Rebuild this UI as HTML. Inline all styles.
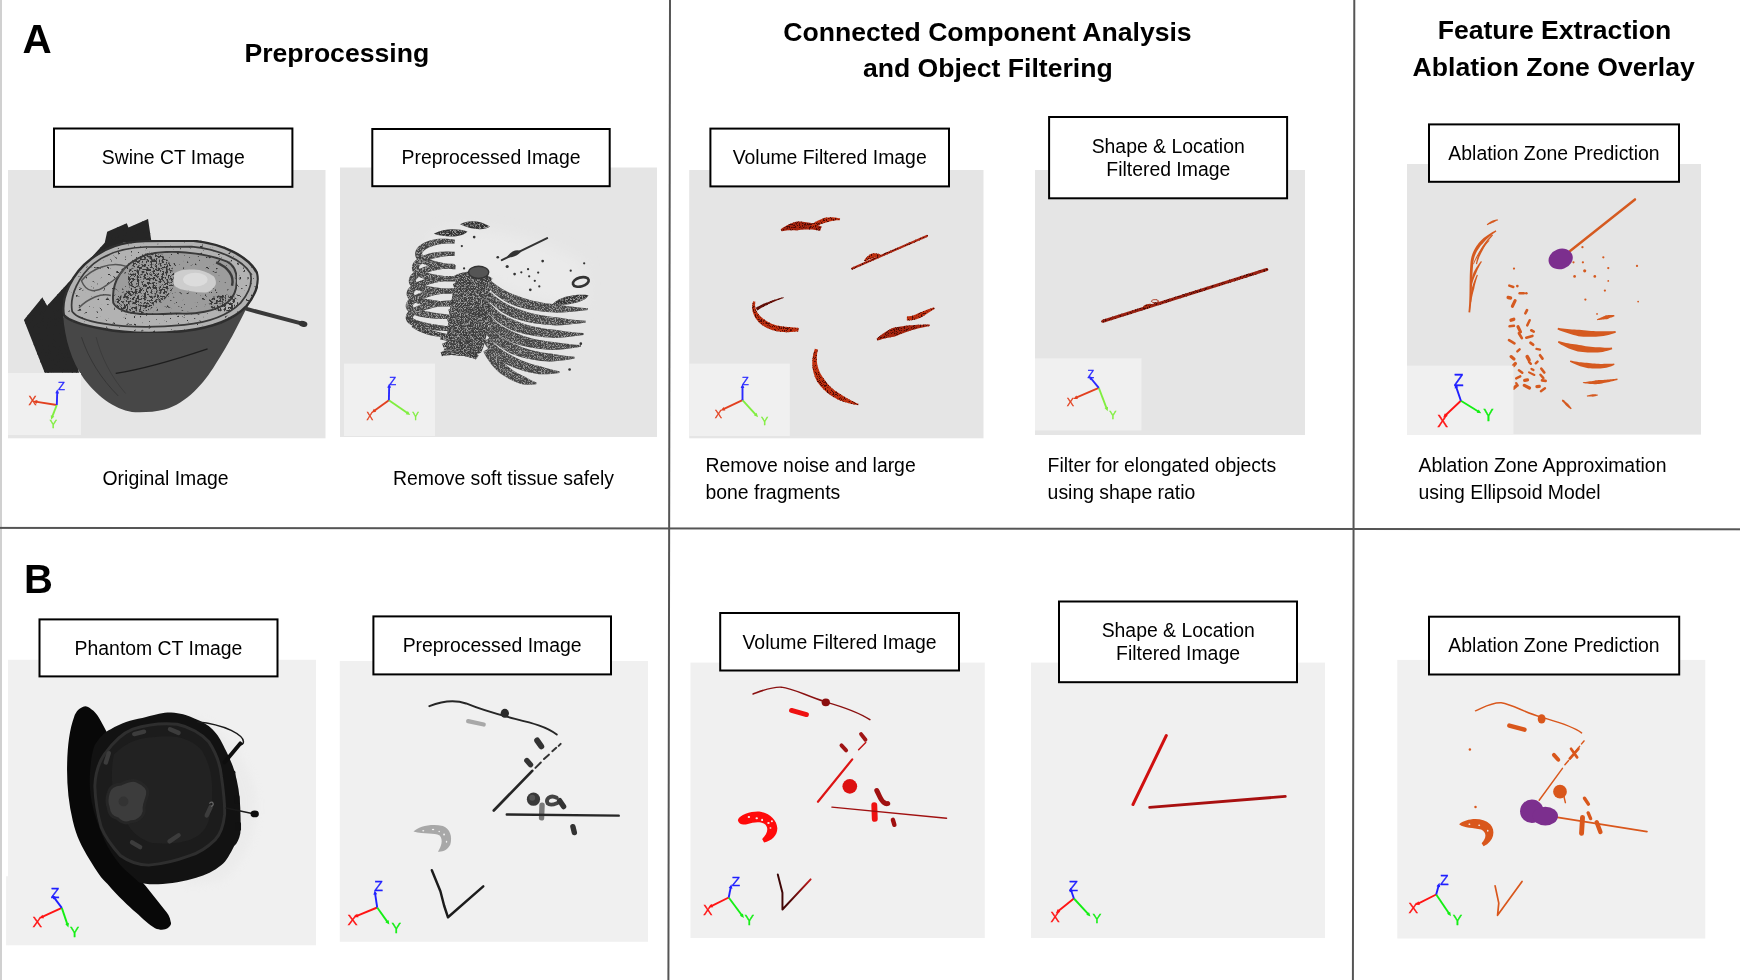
<!DOCTYPE html>
<html><head><meta charset="utf-8"><title>Figure</title>
<style>html,body{margin:0;padding:0;background:#fff;overflow:hidden}svg{display:block}</style></head>
<body><svg width="1740" height="980" viewBox="0 0 1740 980">
<rect width="1740" height="980" fill="#fff"/>
<rect x="8" y="170" width="317.5" height="268.3" fill="#e5e5e5"/>
<rect x="340" y="167.5" width="317.0" height="269.5" fill="#e5e5e5"/>
<rect x="689.2" y="170" width="294.3" height="268.3" fill="#e5e5e5"/>
<rect x="1035" y="170" width="270.0" height="265.0" fill="#e5e5e5"/>
<rect x="1407" y="164" width="294.0" height="270.6" fill="#e5e5e5"/>
<rect x="8" y="659.8" width="308.0" height="285.5" fill="#f0f0f0"/>
<rect x="339.8" y="661" width="308.2" height="280.8" fill="#f0f0f0"/>
<rect x="690.5" y="662.6" width="294.3" height="275.4" fill="#f0f0f0"/>
<rect x="1031" y="662.6" width="294.0" height="275.4" fill="#f0f0f0"/>
<rect x="1397.3" y="659.9" width="308.0" height="278.6" fill="#f0f0f0"/>
<rect x="6.1" y="876.2" width="2.2" height="69.1" fill="#f0f0f0"/>
<defs>
<filter id="spk1" x="0" y="0" width="1" height="1" filterUnits="objectBoundingBox" color-interpolation-filters="sRGB">
<feTurbulence type="fractalNoise" baseFrequency="0.07" numOctaves="3" seed="7" result="n"/>
<feColorMatrix in="n" type="matrix" values="0 0 0 0 0.2  0 0 0 0 0.2  0 0 0 0 0.2  -10 0 0 0 3.2" result="d"/>
<feComposite in="d" in2="SourceGraphic" operator="in" result="dm"/>
<feMerge><feMergeNode in="SourceGraphic"/><feMergeNode in="dm"/></feMerge>
</filter>
<filter id="spk2" x="0" y="0" width="1" height="1" filterUnits="objectBoundingBox" color-interpolation-filters="sRGB">
<feTurbulence type="fractalNoise" baseFrequency="0.35 0.12" numOctaves="2" seed="3" result="n"/>
<feColorMatrix in="n" type="matrix" values="0 0 0 0 0.15  0 0 0 0 0.15  0 0 0 0 0.15  -6 0 0 0 2.5" result="d"/>
<feComposite in="d" in2="SourceGraphic" operator="in" result="dm"/>
<feMerge><feMergeNode in="SourceGraphic"/><feMergeNode in="dm"/></feMerge>
</filter>
<filter id="spk3" x="-0.1" y="-0.1" width="1.2" height="1.2" color-interpolation-filters="sRGB">
<feTurbulence type="fractalNoise" baseFrequency="0.11" numOctaves="3" seed="13" result="n"/>
<feColorMatrix in="n" type="matrix" values="0 0 0 0 0.22  0 0 0 0 0.22  0 0 0 0 0.22  -11 0 0 0 5.6" result="d"/>
<feComposite in="d" in2="SourceGraphic" operator="in"/>
</filter>
</defs>
<g transform="translate(8,200) scale(0.24486)">
<path d="M150,705 L65,490 L140,398 L160,432 L395,175 L405,130 L485,95 L492,112 L572,78 L585,165 L470,175 L360,230 L280,320 L230,400 L225,470 L250,560 L275,640 L290,705 Z" fill="#262626" filter="url(#spk2)"/>
<path d="M225,470 C215,400 260,300 340,240 C400,195 460,170 560,165 L750,163 C880,175 990,230 1022,300 C1035,350 1000,400 975,440 C935,520 900,590 848,670 C800,750 730,830 640,856 C600,866 560,868 520,867 C450,862 370,810 310,730 C260,660 232,570 225,470 Z" fill="#474747"/>
<path d="M300,560 C330,650 380,730 450,800" fill="none" stroke="#2e2e2e" stroke-width="4" opacity="0.7"/><path d="M360,560 C380,640 420,720 480,790" fill="none" stroke="#2e2e2e" stroke-width="3" opacity="0.6"/>
<path d="M440,708 C560,690 690,650 815,608" fill="none" stroke="#1e1e1e" stroke-width="5"/>
<path d="M228,470 C215,400 260,300 340,240 C400,195 460,172 560,168 L750,166 C880,178 985,232 1018,300 C1030,350 1000,400 975,432 C920,490 840,520 720,535 C600,548 480,545 380,525 C310,512 250,495 228,470 Z" fill="#b2b2b2" stroke="#2e2e2e" stroke-width="10" filter="url(#spk1)"/>
<path d="M262,455 C250,390 290,310 350,260 C400,220 470,195 560,192 L750,190 C860,200 960,245 990,300 C1000,340 980,385 950,420 C900,470 820,500 720,510 C600,522 480,520 390,505 C330,495 280,480 262,455 Z" fill="none" stroke="#3a3a3a" stroke-width="7"/>
<path d="M430,420 C420,330 470,260 560,225 C650,200 800,212 895,252 C950,280 945,380 895,420 C850,455 760,468 700,463 C600,468 460,478 430,420 Z" fill="#9c9c9c" stroke="#3a3a3a" stroke-width="8" filter="url(#spk1)"/>
<path d="M300,330 C340,280 420,250 480,270 C470,300 430,330 400,350 C360,380 320,380 300,330 Z" fill="none" stroke="#555" stroke-width="6"/>
<path d="M290,440 C330,400 380,380 420,390" fill="none" stroke="#555" stroke-width="6"/>
<g filter="url(#spk3)"><ellipse cx="585" cy="320" rx="95" ry="105" fill="#000"/><ellipse cx="520" cy="415" rx="80" ry="50" fill="#000"/><ellipse cx="880" cy="420" rx="60" ry="35" fill="#000"/></g>
<path d="M682,298 C700,285 728,282 760,284 C790,285 815,295 841,312 C852,328 850,345 846,349 C835,368 820,378 800,378 C770,376 740,372 705,364 C688,358 676,350 677,340 C676,320 675,308 682,298 Z" fill="#cdcdcd"/>
<ellipse cx="765" cy="325" rx="50" ry="28" fill="#dcdcdc"/>

<path d="M850,255 C900,275 925,310 915,350" fill="none" stroke="#3a3a3a" stroke-width="10"/>
<line x1="975" y1="445" x2="1205" y2="506" stroke="#3a3a3a" stroke-width="16" stroke-linecap="round"/><ellipse cx="1205" cy="506" rx="18" ry="12" fill="#333" transform="rotate(15 1205 506)"/>
</g>

<defs>
<filter id="spkL" x="-0.1" y="-0.1" width="1.2" height="1.2" color-interpolation-filters="sRGB">
<feTurbulence type="fractalNoise" baseFrequency="0.3 0.15" numOctaves="2" seed="11" result="n"/>
<feColorMatrix in="n" type="matrix" values="0 0 0 0 0.62  0 0 0 0 0.62  0 0 0 0 0.62  4 0 0 0 -1.75" result="d"/>
<feComposite in="d" in2="SourceGraphic" operator="in" result="dm"/>
<feMerge><feMergeNode in="SourceGraphic"/><feMergeNode in="dm"/></feMerge>
</filter>
<filter id="blr" x="-0.2" y="-0.2" width="1.4" height="1.4"><feGaussianBlur stdDeviation="30"/></filter>
</defs>
<g transform="translate(390,200) scale(0.22449)" stroke-linecap="round" fill="none">
<path d="M200,160 C300,100 600,130 860,280 L870,470 C700,470 500,420 420,330 L300,330 L140,240 Z" fill="#eaeaea" stroke="none" filter="url(#blr)"/>
<g filter="url(#spkL)">
<path d="M428.9,383.6 L438.9,394.1 L449.7,404.5 L461.0,414.6 L472.9,424.2 L485.5,433.4 L498.7,442.1 L512.7,450.5 L527.3,458.3 L542.7,465.7 L559.1,472.2 L576.4,477.5 L594.5,482.2 L613.3,486.5 L633.0,490.3 L653.5,493.6 L674.9,496.4 L697.2,498.7 L720.4,500.5 L744.7,501.9 L770.1,500.8 L796.5,498.9 L823.9,496.4 L852.4,493.4 L882.1,490.0 L881.9,482.0 L852.3,479.6 L824.1,476.7 L797.1,473.4 L771.5,469.5 L747.1,465.8 L723.8,463.4 L701.5,460.6 L680.4,457.4 L660.3,453.8 L641.2,449.7 L623.1,445.2 L606.0,440.3 L589.8,435.0 L574.4,429.3 L559.7,423.9 L545.4,418.6 L531.8,412.8 L518.8,406.7 L506.4,400.1 L494.5,393.1 L483.1,385.7 L472.1,377.8 L461.5,369.5 L451.1,360.4 Z" fill="#444"/>
<path d="M426.1,432.7 L435.1,443.9 L445.2,455.0 L456.0,465.7 L467.6,476.0 L479.9,485.8 L492.9,495.1 L506.8,504.0 L521.4,512.3 L536.9,520.2 L553.3,527.0 L570.8,532.7 L589.0,537.8 L607.9,542.3 L627.6,546.3 L648.2,549.8 L669.5,552.8 L691.7,555.2 L714.7,557.1 L738.7,558.5 L763.6,557.4 L789.4,555.4 L816.1,552.8 L843.6,549.7 L872.1,546.0 L871.9,538.0 L843.4,535.8 L816.1,533.1 L790.0,529.9 L765.0,526.1 L741.1,522.4 L718.1,520.0 L696.2,517.2 L675.2,513.9 L655.3,510.1 L636.3,505.8 L618.2,501.1 L601.0,496.0 L584.8,490.4 L569.5,484.4 L554.7,478.7 L540.5,473.0 L527.0,466.9 L514.2,460.3 L502.0,453.4 L490.5,445.9 L479.6,438.0 L469.3,429.7 L459.5,420.9 L449.9,411.3 Z" fill="#444"/>
<path d="M422.3,481.8 L430.6,493.7 L440.1,505.5 L450.5,516.9 L461.7,527.8 L473.8,538.1 L486.8,548.0 L500.7,557.3 L515.4,566.1 L530.9,574.3 L547.5,581.5 L565.1,587.5 L583.4,592.8 L602.4,597.6 L622.3,601.8 L642.8,605.4 L664.1,608.5 L686.2,611.0 L709.0,612.9 L732.7,614.2 L757.2,613.1 L782.4,610.9 L808.2,608.2 L834.9,604.9 L862.1,601.0 L861.9,593.0 L834.5,591.0 L808.2,588.5 L782.8,585.4 L758.4,581.8 L735.1,578.1 L712.5,575.8 L690.8,573.0 L670.0,569.6 L650.1,565.7 L631.2,561.4 L613.1,556.5 L595.9,551.2 L579.6,545.4 L564.2,539.1 L549.4,533.2 L535.2,527.2 L521.7,520.7 L509.0,513.8 L497.1,506.5 L485.8,498.6 L475.3,490.3 L465.5,481.6 L456.4,472.4 L447.7,462.2 Z" fill="#444"/>
<path d="M419.3,531.7 L427.9,544.2 L437.7,556.5 L448.3,568.4 L459.7,579.7 L472.0,590.5 L485.1,600.7 L499.0,610.3 L513.8,619.4 L529.3,627.9 L545.7,635.3 L563.2,641.4 L581.3,646.9 L600.1,651.8 L619.5,656.0 L639.6,659.7 L660.4,662.7 L681.8,665.1 L704.0,667.0 L726.7,668.2 L750.3,666.9 L774.4,664.6 L799.1,661.6 L824.4,658.1 L850.2,654.0 L849.8,646.0 L823.9,644.3 L798.8,642.0 L774.7,639.1 L751.4,635.6 L729.0,632.1 L707.4,629.9 L686.5,627.1 L666.4,623.8 L647.1,620.0 L628.7,615.6 L611.0,610.7 L594.2,605.4 L578.2,599.5 L563.0,593.1 L548.3,586.9 L534.1,580.7 L520.6,574.0 L507.8,566.8 L495.7,559.1 L484.2,550.9 L473.5,542.1 L463.3,532.9 L453.8,523.0 L444.7,512.3 Z" fill="#444"/>
<path d="M417.4,581.9 L426.3,594.3 L436.2,606.7 L446.9,618.5 L458.4,629.9 L470.7,640.7 L483.7,650.9 L497.4,660.6 L511.9,669.8 L527.0,678.3 L542.9,685.9 L559.8,692.1 L577.1,697.8 L595.0,702.8 L613.4,707.2 L632.3,710.9 L651.7,714.1 L671.5,716.7 L691.9,718.6 L712.6,720.0 L733.9,718.8 L755.6,716.5 L777.5,713.6 L799.7,710.1 L822.2,706.0 L821.8,698.0 L799.2,696.3 L777.3,693.9 L756.0,691.0 L735.3,687.5 L715.3,683.9 L695.8,681.6 L676.8,678.8 L658.4,675.4 L640.6,671.4 L623.4,667.0 L606.8,662.0 L590.9,656.5 L575.6,650.5 L560.9,644.0 L546.6,637.7 L532.7,631.4 L519.4,624.6 L506.7,617.2 L494.5,609.4 L483.0,601.0 L472.0,592.2 L461.7,582.8 L452.0,572.9 L442.6,562.1 Z" fill="#444"/>
<path d="M416.5,630.6 L422.9,641.9 L430.4,653.4 L438.8,664.6 L448.0,675.4 L458.0,685.9 L468.7,695.9 L480.1,705.6 L492.2,714.9 L505.0,723.8 L518.6,731.8 L533.1,738.7 L548.0,745.1 L563.5,751.1 L579.3,756.5 L595.5,761.4 L612.1,765.9 L629.0,769.8 L646.2,773.2 L663.7,776.1 L681.8,776.6 L700.0,776.1 L718.3,774.9 L736.6,773.3 L754.9,771.0 L755.1,763.0 L737.3,759.4 L719.9,755.3 L702.9,750.7 L686.3,745.6 L670.1,740.5 L654.0,736.8 L638.2,732.7 L622.8,728.0 L607.8,723.0 L593.3,717.5 L579.2,711.6 L565.7,705.4 L552.7,698.7 L540.3,691.8 L528.2,685.1 L516.3,678.5 L505.0,671.5 L494.3,664.2 L484.2,656.6 L474.8,648.7 L466.0,640.4 L457.9,631.9 L450.5,623.0 L443.5,613.4 Z" fill="#444"/>
<path d="M416.1,674.9 L420.9,684.9 L426.4,695.1 L432.5,705.2 L439.1,715.1 L446.1,724.9 L453.7,734.5 L461.6,743.8 L470.0,753.0 L478.8,761.9 L488.3,770.1 L498.6,777.4 L509.2,784.3 L520.0,790.8 L531.1,797.0 L542.3,802.7 L553.8,808.0 L565.5,812.8 L577.3,817.2 L589.3,821.1 L601.9,822.6 L614.6,823.1 L627.1,823.0 L639.4,822.3 L651.5,821.0 L652.5,813.0 L641.6,808.6 L631.1,803.7 L620.8,798.4 L610.9,792.6 L601.1,786.9 L591.0,782.6 L580.9,777.8 L571.1,772.7 L561.4,767.1 L552.0,761.2 L542.8,755.0 L533.8,748.5 L525.2,741.6 L516.8,734.5 L508.3,727.7 L499.8,721.0 L491.5,714.1 L483.6,706.9 L476.0,699.4 L468.8,691.8 L462.0,683.9 L455.6,675.9 L449.6,667.8 L443.9,659.1 Z" fill="#444"/>
<path d="M289.1,177.1 L276.8,175.1 L264.5,173.6 L252.4,172.7 L240.6,172.4 L229.1,172.5 L217.9,173.1 L207.1,174.2 L196.7,175.7 L186.6,177.7 L177.1,180.1 L168.1,183.2 L159.6,186.6 L151.7,190.3 L144.3,194.4 L137.5,198.8 L131.3,203.6 L125.8,208.8 L121.0,214.4 L117.0,220.5 L114.0,227.3 L112.2,234.6 L111.8,242.2 L113.0,250.0 L115.8,257.3 L119.8,263.3 L124.1,268.3 L128.9,272.7 L134.1,276.7 L139.7,280.3 L145.6,283.6 L151.9,286.5 L158.4,289.2 L165.2,291.7 L172.3,293.9 L179.6,296.0 L187.2,297.9 L195.0,299.6 L203.0,301.3 L211.3,302.5 L219.7,303.6 L228.3,304.5 L237.0,305.3 L245.9,306.1 L254.8,306.7 L263.8,307.3 L272.8,307.9 L281.9,308.4 L291.0,308.9 L293.0,291.1 L284.1,289.5 L275.2,288.0 L266.4,286.4 L257.7,284.8 L249.1,283.1 L240.6,281.3 L232.4,279.5 L224.3,277.6 L216.4,275.7 L208.8,273.8 L201.4,272.0 L194.3,270.1 L187.6,268.1 L181.2,266.1 L175.2,263.9 L169.6,261.6 L164.5,259.3 L159.9,256.8 L155.9,254.3 L152.4,251.8 L149.4,249.3 L147.1,246.8 L145.3,244.4 L144.2,242.7 L143.5,241.2 L143.1,240.0 L143.0,238.7 L143.3,237.0 L144.1,234.8 L145.6,232.1 L147.9,229.1 L151.0,225.9 L155.0,222.6 L159.7,219.2 L165.2,215.9 L171.4,212.7 L178.3,209.7 L185.8,206.9 L193.8,204.1 L202.3,201.5 L211.4,199.1 L220.9,197.2 L231.0,195.7 L241.4,194.5 L252.2,193.9 L263.4,193.7 L274.9,194.0 L286.9,194.9 Z" fill="#424242"/>
<path d="M288.3,231.0 L274.8,230.1 L261.4,229.6 L248.4,229.6 L235.7,230.0 L223.3,230.8 L211.4,231.9 L199.9,233.5 L188.8,235.3 L178.2,237.5 L168.1,240.2 L158.6,243.4 L149.7,246.9 L141.3,250.6 L133.6,254.6 L126.4,258.9 L119.9,263.6 L114.0,268.6 L108.8,274.0 L104.4,279.9 L100.9,286.3 L98.5,293.4 L97.5,301.0 L98.1,308.8 L100.3,316.4 L104.1,322.7 L108.4,328.0 L113.3,332.7 L118.8,336.7 L124.6,340.3 L130.9,343.5 L137.5,346.3 L144.5,348.8 L151.9,351.0 L159.6,353.1 L167.7,354.9 L176.1,356.6 L184.8,358.0 L193.8,359.4 L203.1,360.3 L212.6,361.0 L222.4,361.6 L232.4,362.0 L242.6,362.4 L253.0,362.6 L263.5,362.8 L274.1,362.9 L284.8,363.0 L295.6,363.0 L296.4,345.0 L285.8,344.0 L275.2,342.9 L264.8,341.7 L254.6,340.5 L244.5,339.2 L234.7,337.9 L225.1,336.4 L215.7,334.9 L206.7,333.2 L198.0,331.6 L189.7,330.1 L181.7,328.4 L174.1,326.7 L167.1,324.8 L160.5,322.8 L154.4,320.7 L149.0,318.5 L144.1,316.2 L140.0,313.8 L136.5,311.5 L133.8,309.2 L131.7,307.0 L130.4,305.0 L129.7,303.6 L129.2,302.4 L128.9,301.3 L128.9,300.0 L129.4,298.3 L130.4,296.0 L132.2,293.2 L134.9,290.1 L138.5,286.8 L142.9,283.4 L148.2,279.9 L154.3,276.5 L161.1,273.1 L168.6,270.0 L176.8,266.9 L185.5,263.9 L194.9,261.0 L204.8,258.3 L215.2,255.9 L226.2,253.8 L237.6,252.1 L249.5,250.7 L261.8,249.7 L274.5,249.1 L287.7,249.0 Z" fill="#424242"/>
<path d="M288.0,285.0 L273.4,284.4 L259.0,284.3 L245.0,284.5 L231.5,285.1 L218.4,286.1 L205.8,287.4 L193.7,289.0 L182.1,290.9 L171.0,293.1 L160.5,295.8 L150.6,299.0 L141.3,302.4 L132.6,306.0 L124.5,309.9 L117.1,314.1 L110.2,318.6 L104.0,323.3 L98.4,328.4 L93.5,333.9 L89.5,339.9 L86.3,346.5 L84.3,353.6 L83.6,361.0 L84.5,369.1 L87.7,376.5 L91.8,382.5 L96.7,387.6 L102.3,392.0 L108.3,395.7 L114.9,398.9 L121.8,401.8 L129.3,404.3 L137.1,406.5 L145.4,408.5 L154.2,410.3 L163.3,411.9 L172.8,413.3 L182.7,414.5 L192.9,415.4 L203.5,416.0 L214.3,416.4 L225.4,416.7 L236.7,417.0 L248.2,417.1 L259.9,417.2 L271.8,417.2 L283.7,417.1 L295.7,417.0 L296.3,399.0 L284.4,398.1 L272.6,397.1 L260.9,396.1 L249.4,395.0 L238.2,393.8 L227.2,392.6 L216.4,391.2 L206.0,389.7 L196.0,388.2 L186.3,386.6 L177.0,385.2 L168.2,383.6 L159.9,381.9 L152.2,380.1 L145.1,378.1 L138.6,376.0 L132.8,373.8 L127.8,371.5 L123.6,369.2 L120.4,366.9 L118.0,364.8 L116.5,363.0 L115.7,361.5 L115.5,360.9 L115.3,360.2 L115.3,358.9 L115.6,357.1 L116.4,355.0 L118.0,352.3 L120.4,349.3 L123.6,346.0 L127.7,342.6 L132.7,339.1 L138.4,335.7 L144.9,332.2 L152.2,328.9 L160.2,325.7 L168.8,322.6 L178.1,319.6 L188.0,316.6 L198.5,313.8 L209.6,311.3 L221.4,309.1 L233.6,307.2 L246.4,305.6 L259.8,304.3 L273.6,303.5 L288.0,303.0 Z" fill="#424242"/>
<path d="M287.7,339.0 L273.0,338.9 L258.6,339.1 L244.5,339.7 L230.8,340.6 L217.5,341.8 L204.7,343.2 L192.3,344.9 L180.4,346.9 L169.0,349.2 L158.1,351.8 L147.9,354.9 L138.2,358.2 L129.0,361.8 L120.5,365.5 L112.6,369.5 L105.3,373.7 L98.6,378.2 L92.5,383.0 L87.1,388.2 L82.4,393.8 L78.6,400.0 L75.7,406.8 L74.2,414.2 L74.1,422.2 L76.4,429.9 L80.1,436.4 L84.8,441.9 L90.2,446.5 L96.2,450.4 L102.6,453.7 L109.6,456.7 L117.1,459.3 L125.1,461.7 L133.6,463.9 L142.5,465.8 L152.0,467.6 L161.8,469.2 L172.1,470.6 L182.9,471.7 L194.0,472.5 L205.4,473.2 L217.1,473.7 L229.0,474.1 L241.2,474.5 L253.6,474.7 L266.2,474.9 L278.9,475.0 L291.6,475.0 L292.4,457.0 L279.7,456.0 L267.2,454.8 L254.9,453.6 L242.7,452.4 L230.8,451.0 L219.1,449.5 L207.8,448.0 L196.9,446.3 L186.3,444.5 L176.2,442.8 L166.5,441.2 L157.3,439.4 L148.7,437.5 L140.7,435.5 L133.4,433.4 L126.8,431.2 L121.0,428.9 L116.0,426.5 L112.0,424.2 L109.0,422.0 L107.1,420.1 L106.1,418.7 L105.8,417.9 L105.9,417.8 L105.7,417.1 L105.9,415.7 L106.5,413.9 L107.7,411.5 L109.8,408.7 L112.8,405.5 L116.7,402.2 L121.4,398.7 L127.0,395.2 L133.3,391.8 L140.5,388.3 L148.3,385.0 L156.9,381.8 L166.1,378.8 L175.9,375.7 L186.3,372.6 L197.2,369.8 L208.7,367.1 L220.8,364.7 L233.3,362.6 L246.4,360.8 L259.9,359.2 L273.8,357.9 L288.3,357.0 Z" fill="#424242"/>
<path d="M287.6,393.0 L272.9,393.1 L258.4,393.6 L244.2,394.3 L230.4,395.4 L217.0,396.7 L204.0,398.2 L191.5,400.0 L179.4,402.0 L167.8,404.3 L156.7,407.0 L146.2,410.0 L136.3,413.3 L127.0,416.8 L118.3,420.4 L110.1,424.3 L102.6,428.4 L95.8,432.7 L89.5,437.4 L83.9,442.4 L79.0,447.9 L75.0,453.9 L71.9,460.7 L70.2,468.1 L70.1,476.0 L72.2,483.6 L75.9,490.3 L80.7,496.0 L86.1,500.6 L92.2,504.6 L98.8,508.0 L106.0,511.1 L113.6,513.8 L121.8,516.3 L130.6,518.6 L139.8,520.7 L149.5,522.6 L159.6,524.3 L170.2,525.9 L181.2,527.1 L192.6,528.0 L204.3,528.7 L216.2,529.4 L228.4,529.9 L240.8,530.3 L253.4,530.6 L266.1,530.9 L278.8,531.0 L291.6,531.0 L292.4,513.0 L279.7,511.9 L267.1,510.8 L254.7,509.6 L242.4,508.2 L230.3,506.8 L218.5,505.2 L206.9,503.6 L195.7,501.8 L184.9,499.9 L174.5,498.1 L164.5,496.3 L155.0,494.4 L146.1,492.4 L137.8,490.3 L130.3,488.1 L123.4,485.7 L117.4,483.3 L112.2,480.8 L108.1,478.4 L105.0,476.2 L103.0,474.2 L102.0,472.8 L101.8,472.2 L101.9,472.0 L101.8,471.4 L101.8,470.3 L102.4,468.7 L103.7,466.4 L105.9,463.7 L109.1,460.6 L113.1,457.3 L118.1,453.8 L123.9,450.4 L130.6,446.9 L138.0,443.5 L146.2,440.2 L155.0,437.0 L164.5,434.0 L174.6,430.8 L185.2,427.7 L196.4,424.8 L208.2,422.1 L220.4,419.6 L233.1,417.4 L246.3,415.4 L259.9,413.6 L273.9,412.2 L288.4,411.0 Z" fill="#424242"/>
<path d="M287.5,447.0 L272.8,447.4 L258.3,448.0 L244.2,448.8 L230.4,449.9 L217.0,451.2 L204.1,452.7 L191.6,454.5 L179.5,456.4 L167.9,458.5 L156.9,461.0 L146.5,463.9 L136.6,466.9 L127.3,470.2 L118.6,473.7 L110.4,477.3 L102.9,481.2 L96.0,485.3 L89.8,489.8 L84.1,494.6 L79.2,500.0 L75.0,506.0 L71.9,512.7 L70.2,520.1 L70.1,528.0 L72.3,535.7 L76.1,542.2 L80.9,547.6 L86.4,552.1 L92.5,555.9 L99.1,559.3 L106.2,562.3 L113.9,565.0 L122.2,567.6 L131.1,569.9 L140.5,572.0 L150.4,574.0 L160.8,575.9 L171.7,577.6 L183.0,579.0 L194.8,580.1 L207.0,581.1 L219.4,581.9 L232.2,582.7 L245.3,583.3 L258.6,583.9 L272.1,584.3 L285.7,584.7 L299.5,585.0 L300.5,567.0 L286.9,565.7 L273.4,564.3 L260.2,562.8 L247.2,561.3 L234.4,559.6 L222.0,557.8 L209.9,556.0 L198.2,554.0 L187.0,551.9 L176.2,549.9 L165.9,548.0 L156.1,546.0 L147.0,543.8 L138.5,541.6 L130.7,539.3 L123.7,536.9 L117.5,534.4 L112.3,532.0 L108.0,529.6 L104.8,527.3 L102.8,525.4 L101.8,524.1 L101.7,523.6 L101.9,524.0 L101.7,523.4 L101.8,522.5 L102.3,521.0 L103.6,518.9 L105.7,516.3 L108.8,513.4 L112.9,510.2 L117.8,507.0 L123.6,503.7 L130.3,500.4 L137.7,497.2 L145.9,494.1 L154.8,491.0 L164.3,488.1 L174.4,485.1 L185.1,482.1 L196.3,479.3 L208.1,476.6 L220.4,474.2 L233.2,471.9 L246.4,469.8 L260.0,468.0 L274.1,466.4 L288.5,465.0 Z" fill="#424242"/>
<path d="M292.9,353.5 L299.3,352.2 L305.7,351.1 L312.1,350.2 L318.7,349.6 L325.4,349.1 L332.1,348.9 L338.9,348.9 L345.7,349.2 L352.4,349.7 L359.1,350.4 L365.8,351.3 L372.3,352.4 L378.9,352.5 L385.5,352.8 L391.9,353.3 L398.3,354.0 L404.6,355.0 L410.7,356.3 L416.6,357.7 L422.4,359.4 L428.0,361.4 L433.4,363.6 L438.5,366.1 L443.7,369.0 L456.3,351.0 L451.2,346.7 L445.4,342.5 L439.4,338.6 L433.1,335.0 L426.5,331.7 L419.6,328.7 L412.6,326.0 L405.4,323.5 L398.0,321.4 L390.5,319.5 L382.9,317.9 L375.2,316.6 L367.3,316.8 L359.5,317.4 L351.7,318.2 L344.0,319.2 L336.3,320.6 L328.8,322.1 L321.4,323.9 L314.1,326.0 L307.0,328.3 L300.1,330.8 L293.4,333.6 L287.1,336.5 Z" fill="#363636"/>
<path d="M286.0,391.5 L292.4,390.2 L298.8,389.1 L305.3,388.2 L311.9,387.6 L318.6,387.1 L325.3,386.9 L332.1,386.9 L338.8,387.2 L345.6,387.7 L352.3,388.4 L359.0,389.3 L365.5,390.4 L372.1,390.5 L378.6,390.8 L385.1,391.3 L391.5,392.0 L397.7,393.0 L403.8,394.3 L409.8,395.7 L415.6,397.4 L421.1,399.4 L426.5,401.6 L431.7,404.1 L436.8,407.0 L449.5,389.0 L444.4,384.7 L438.6,380.5 L432.6,376.6 L426.2,373.0 L419.6,369.7 L412.8,366.7 L405.8,364.0 L398.6,361.5 L391.2,359.4 L383.7,357.5 L376.0,355.9 L368.3,354.6 L360.4,354.8 L352.6,355.4 L344.8,356.2 L337.1,357.2 L329.5,358.6 L322.0,360.1 L314.5,361.9 L307.3,364.0 L300.2,366.3 L293.3,368.8 L286.6,371.6 L280.3,374.5 Z" fill="#363636"/>
<path d="M279.2,429.5 L285.6,428.2 L292.0,427.1 L298.5,426.2 L305.1,425.6 L311.7,425.1 L318.5,424.9 L325.2,424.9 L332.0,425.2 L338.8,425.7 L345.5,426.4 L352.1,427.3 L358.7,428.4 L365.2,428.5 L371.8,428.8 L378.2,429.3 L384.6,430.0 L390.9,431.0 L397.0,432.3 L402.9,433.7 L408.7,435.4 L414.3,437.4 L419.7,439.6 L424.8,442.1 L430.0,445.0 L442.6,427.0 L437.5,422.7 L431.8,418.5 L425.7,414.6 L419.4,411.0 L412.8,407.7 L406.0,404.7 L398.9,402.0 L391.7,399.5 L384.4,397.4 L376.8,395.5 L369.2,393.9 L361.5,392.6 L353.6,392.8 L345.8,393.4 L338.0,394.2 L330.3,395.2 L322.6,396.6 L315.1,398.1 L307.7,399.9 L300.4,402.0 L293.4,404.3 L286.4,406.8 L279.7,409.6 L273.4,412.5 Z" fill="#363636"/>
<path d="M272.4,467.5 L278.8,466.2 L285.1,465.1 L291.6,464.2 L298.2,463.6 L304.9,463.1 L311.6,462.9 L318.4,462.9 L325.2,463.2 L331.9,463.7 L338.6,464.4 L345.3,465.3 L351.8,466.4 L358.4,466.5 L364.9,466.8 L371.4,467.3 L377.8,468.0 L384.0,469.0 L390.1,470.3 L396.1,471.7 L401.9,473.4 L407.5,475.4 L412.8,477.6 L418.0,480.1 L423.2,483.0 L435.8,465.0 L430.7,460.7 L424.9,456.5 L418.9,452.6 L412.5,449.0 L405.9,445.7 L399.1,442.7 L392.1,440.0 L384.9,437.5 L377.5,435.4 L370.0,433.5 L362.4,431.9 L354.6,430.6 L346.8,430.8 L338.9,431.4 L331.1,432.2 L323.4,433.2 L315.8,434.6 L308.3,436.1 L300.9,437.9 L293.6,440.0 L286.5,442.3 L279.6,444.8 L272.9,447.6 L266.6,450.5 Z" fill="#363636"/>
<path d="M265.5,505.5 L271.9,504.2 L278.3,503.1 L284.8,502.2 L291.4,501.6 L298.1,501.1 L304.8,500.9 L311.5,500.9 L318.3,501.2 L325.1,501.7 L331.8,502.4 L338.4,503.3 L345.0,504.4 L351.6,504.5 L358.1,504.8 L364.6,505.3 L370.9,506.0 L377.2,507.0 L383.3,508.3 L389.3,509.7 L395.0,511.4 L400.6,513.4 L406.0,515.6 L411.1,518.1 L416.3,521.0 L429.0,503.0 L423.8,498.7 L418.1,494.5 L412.0,490.6 L405.7,487.0 L399.1,483.7 L392.3,480.7 L385.3,478.0 L378.0,475.5 L370.7,473.4 L363.2,471.5 L355.5,469.9 L347.8,468.6 L339.9,468.8 L332.1,469.4 L324.3,470.2 L316.6,471.2 L309.0,472.6 L301.4,474.1 L294.0,475.9 L286.8,478.0 L279.7,480.3 L272.8,482.8 L266.1,485.6 L259.8,488.5 Z" fill="#363636"/>
<path d="M258.7,543.5 L265.1,542.2 L271.5,541.1 L277.9,540.2 L284.5,539.6 L291.2,539.1 L297.9,538.9 L304.7,538.9 L311.5,539.2 L318.2,539.7 L324.9,540.4 L331.6,541.3 L338.1,542.4 L344.7,542.5 L351.3,542.8 L357.7,543.3 L364.1,544.0 L370.4,545.0 L376.5,546.3 L382.4,547.7 L388.2,549.4 L393.8,551.4 L399.2,553.6 L404.3,556.1 L409.5,559.0 L422.1,541.0 L417.0,536.7 L411.2,532.5 L405.2,528.6 L398.9,525.0 L392.3,521.7 L385.4,518.7 L378.4,516.0 L371.2,513.5 L363.8,511.4 L356.3,509.5 L348.7,507.9 L341.0,506.6 L333.1,506.8 L325.3,507.4 L317.5,508.2 L309.8,509.2 L302.1,510.6 L294.6,512.1 L287.2,513.9 L279.9,516.0 L272.8,518.3 L265.9,520.8 L259.2,523.6 L252.9,526.5 Z" fill="#363636"/>
<path d="M251.8,581.5 L258.2,580.2 L264.6,579.1 L271.1,578.2 L277.7,577.6 L284.4,577.1 L291.1,576.9 L297.9,576.9 L304.6,577.2 L311.4,577.7 L318.1,578.4 L324.8,579.3 L331.3,580.4 L337.9,580.5 L344.4,580.8 L350.9,581.3 L357.3,582.0 L363.5,583.0 L369.6,584.3 L375.6,585.7 L381.4,587.4 L386.9,589.4 L392.3,591.6 L397.5,594.1 L402.6,597.0 L415.3,579.0 L410.2,574.7 L404.4,570.5 L398.4,566.6 L392.0,563.0 L385.4,559.7 L378.6,556.7 L371.6,554.0 L364.4,551.5 L357.0,549.4 L349.5,547.5 L341.8,545.9 L334.1,544.6 L326.2,544.8 L318.4,545.4 L310.6,546.2 L302.9,547.2 L295.3,548.6 L287.8,550.1 L280.3,551.9 L273.1,554.0 L266.0,556.3 L259.1,558.8 L252.4,561.6 L246.1,564.5 Z" fill="#363636"/>
<path d="M245.0,619.5 L251.4,618.2 L257.8,617.1 L264.3,616.2 L270.9,615.6 L277.5,615.1 L284.3,614.9 L291.0,614.9 L297.8,615.2 L304.6,615.7 L311.3,616.4 L317.9,617.3 L324.5,618.4 L331.0,618.5 L337.6,618.8 L344.0,619.3 L350.4,620.0 L356.7,621.0 L362.8,622.3 L368.7,623.7 L374.5,625.4 L380.1,627.4 L385.5,629.6 L390.6,632.1 L395.8,635.0 L408.4,617.0 L403.3,612.7 L397.6,608.5 L391.5,604.6 L385.2,601.0 L378.6,597.7 L371.8,594.7 L364.7,592.0 L357.5,589.5 L350.2,587.4 L342.6,585.5 L335.0,583.9 L327.3,582.6 L319.4,582.8 L311.6,583.4 L303.8,584.2 L296.1,585.2 L288.4,586.6 L280.9,588.1 L273.5,589.9 L266.2,592.0 L259.2,594.3 L252.2,596.8 L245.5,599.6 L239.2,602.5 Z" fill="#363636"/>
<path d="M238.2,657.5 L244.6,656.2 L250.9,655.1 L257.4,654.2 L264.0,653.6 L270.7,653.1 L277.4,652.9 L284.2,652.9 L291.0,653.2 L297.7,653.7 L304.4,654.4 L311.1,655.3 L317.6,656.4 L324.2,656.5 L330.7,656.8 L337.2,657.3 L343.6,658.0 L349.8,659.0 L355.9,660.3 L361.9,661.7 L367.7,663.4 L373.3,665.4 L378.6,667.6 L383.8,670.1 L389.0,673.0 L401.6,655.0 L396.5,650.7 L390.7,646.5 L384.7,642.6 L378.3,639.0 L371.7,635.7 L364.9,632.7 L357.9,630.0 L350.7,627.5 L343.3,625.4 L335.8,623.5 L328.2,621.9 L320.4,620.6 L312.6,620.8 L304.7,621.4 L296.9,622.2 L289.2,623.2 L281.6,624.6 L274.1,626.1 L266.7,627.9 L259.4,630.0 L252.3,632.3 L245.4,634.8 L238.7,637.6 L232.4,640.5 Z" fill="#363636"/>
<path d="M231.3,695.5 L237.7,694.2 L244.1,693.1 L250.6,692.2 L257.2,691.6 L263.9,691.1 L270.6,690.9 L277.3,690.9 L284.1,691.2 L290.9,691.7 L297.6,692.4 L304.2,693.3 L310.8,694.4 L317.4,694.5 L323.9,694.8 L330.4,695.3 L336.7,696.0 L343.0,697.0 L349.1,698.3 L355.1,699.7 L360.8,701.4 L366.4,703.4 L371.8,705.6 L376.9,708.1 L382.1,711.0 L394.8,693.0 L389.6,688.7 L383.9,684.5 L377.8,680.6 L371.5,677.0 L364.9,673.7 L358.1,670.7 L351.1,668.0 L343.8,665.5 L336.5,663.4 L329.0,661.5 L321.3,659.9 L313.6,658.6 L305.7,658.8 L297.9,659.4 L290.1,660.2 L282.4,661.2 L274.8,662.6 L267.2,664.1 L259.8,665.9 L252.6,668.0 L245.5,670.3 L238.6,672.8 L231.9,675.6 L225.6,678.5 Z" fill="#363636"/>
<path d="M300,340 C360,310 430,320 440,350 C455,430 440,620 405,680 C360,700 290,690 250,670 C255,560 270,430 300,340 Z" fill="#3c3c3c"/>
<path d="M96.4,566.0 L101.4,569.5 L106.8,572.9 L112.3,576.2 L118.2,579.5 L124.3,582.6 L130.6,585.6 L137.3,588.5 L144.2,591.3 L151.3,594.0 L158.8,596.7 L166.5,599.3 L174.6,601.8 L183.1,603.4 L192.0,605.0 L201.1,606.5 L210.6,608.0 L220.4,609.4 L230.5,610.8 L241.0,612.2 L251.9,613.6 L263.1,614.9 L274.7,616.3 L286.6,617.6 L299.0,618.9 L301.0,605.1 L288.8,602.9 L277.0,600.8 L265.6,598.6 L254.6,596.5 L244.0,594.3 L233.8,592.1 L224.0,589.9 L214.6,587.7 L205.5,585.5 L196.8,583.2 L188.4,580.9 L180.4,578.5 L172.5,576.9 L164.9,575.2 L157.7,573.5 L150.7,571.7 L143.9,569.8 L137.5,567.8 L131.3,565.8 L125.3,563.7 L119.6,561.4 L114.1,559.1 L108.8,556.6 L103.6,554.0 Z" fill="#3a3a3a"/>
<path d="M224.5,622.0 L230.0,622.8 L235.5,623.8 L241.0,624.8 L246.6,626.0 L252.2,627.3 L257.7,628.7 L263.3,630.3 L268.8,631.9 L274.4,633.7 L279.9,635.6 L285.4,637.6 L290.9,639.8 L296.6,641.3 L302.3,642.9 L308.0,644.7 L313.7,646.6 L319.4,648.7 L325.0,650.9 L330.6,653.3 L336.2,655.9 L341.7,658.6 L347.2,661.4 L352.6,664.5 L358.0,667.8 L366.0,656.2 L360.8,652.2 L355.5,648.2 L350.1,644.4 L344.6,640.7 L339.1,637.2 L333.4,633.9 L327.7,630.7 L321.9,627.7 L316.1,624.8 L310.2,622.0 L304.3,619.4 L298.3,617.0 L292.1,615.4 L285.9,614.1 L279.7,612.9 L273.5,611.8 L267.4,610.9 L261.2,610.1 L255.2,609.4 L249.1,608.9 L243.1,608.5 L237.2,608.2 L231.3,608.0 L225.5,608.0 Z" fill="#3a3a3a"/>
<path d="M239.1,674.9 L242.9,675.9 L246.9,676.8 L251.0,677.8 L255.3,678.8 L259.8,679.9 L264.4,680.9 L269.1,682.1 L274.0,683.3 L278.9,684.5 L283.9,685.8 L289.0,687.2 L294.1,688.6 L299.5,689.3 L304.9,690.1 L310.3,691.0 L315.8,691.9 L321.2,693.0 L326.7,694.1 L332.2,695.4 L337.7,696.7 L343.1,698.2 L348.5,699.8 L353.8,701.5 L359.2,703.4 L364.8,690.6 L359.6,687.9 L354.2,685.2 L348.8,682.7 L343.3,680.3 L337.7,678.1 L332.2,675.9 L326.6,673.9 L321.0,671.9 L315.4,670.1 L309.9,668.3 L304.4,666.7 L298.9,665.1 L293.3,664.4 L287.9,663.9 L282.5,663.3 L277.3,662.9 L272.2,662.5 L267.2,662.2 L262.4,661.9 L257.7,661.6 L253.2,661.4 L248.9,661.3 L244.8,661.2 L240.9,661.1 Z" fill="#3a3a3a"/>
<path d="M195,150 C240,125 300,125 345,140 C320,168 250,168 195,150 Z" fill="#303030" stroke="none"/>
<path d="M312,108 C350,88 400,90 445,118 C420,138 360,132 312,108 Z" fill="#303030" stroke="none"/>
<path d="M722,465 C760,425 840,418 884,424 C872,455 790,472 722,465 Z" fill="#333" stroke="none"/>
</g>
<ellipse cx="395" cy="322" rx="45" ry="27" fill="#555" stroke="#333" stroke-width="6"/>
<line x1="498" y1="268" x2="700" y2="170" stroke="#333" stroke-width="9"/>
<path d="M520,255 C540,225 565,218 585,228 C570,248 545,258 520,255 Z" fill="#333" stroke="none"/>
<ellipse cx="850" cy="365" rx="36" ry="20" fill="none" stroke="#333" stroke-width="12" transform="rotate(-15 850 365)"/>
<g fill="#333" stroke="none">
<circle cx="480" cy="255" r="6"/><circle cx="522" cy="296" r="7"/><circle cx="555" cy="330" r="6"/><circle cx="585" cy="322" r="5"/><circle cx="615" cy="308" r="5"/><circle cx="620" cy="340" r="5"/><circle cx="660" cy="323" r="5"/><circle cx="645" cy="360" r="5"/><circle cx="625" cy="400" r="6"/><circle cx="665" cy="385" r="5"/><circle cx="805" cy="315" r="5"/><circle cx="680" cy="272" r="6"/><circle cx="865" cy="282" r="5"/><circle cx="330" cy="305" r="5"/><circle cx="375" cy="165" r="6"/><circle cx="320" cy="205" r="5"/><circle cx="800" cy="755" r="6"/><circle cx="850" cy="640" r="6"/>
</g>
</g>
<defs><filter id="spkR" x="-0.1" y="-0.1" width="1.2" height="1.2" color-interpolation-filters="sRGB">
<feTurbulence type="fractalNoise" baseFrequency="0.25" numOctaves="2" seed="5" result="n"/>
<feColorMatrix in="n" type="matrix" values="0 0 0 0 0.30  0 0 0 0 0.04  0 0 0 0 0.02  -9 0 0 0 4.3" result="d"/>
<feComposite in="d" in2="SourceGraphic" operator="in" result="dm"/>
<feMerge><feMergeNode in="SourceGraphic"/><feMergeNode in="dm"/></feMerge>
</filter></defs>
<g transform="translate(730,200) scale(0.22449)" stroke-linecap="round" filter="url(#spkR)">
<path d="M230.1,139.5 L237.2,138.0 L244.3,136.8 L251.4,135.9 L258.6,135.2 L265.8,134.7 L273.1,134.6 L280.3,134.6 L287.6,134.9 L294.8,135.4 L301.9,135.3 L308.9,134.0 L316.0,132.9 L323.2,132.1 L330.4,131.5 L337.7,131.1 L344.9,130.9 L352.1,130.9 L359.4,131.2 L366.6,131.6 L373.7,132.3 L380.8,133.3 L387.8,134.4 L394.8,135.8 L401.8,137.5 L408.2,118.5 L401.3,115.4 L394.1,112.5 L386.7,109.8 L379.1,107.3 L371.4,105.1 L363.5,103.1 L355.6,101.4 L347.5,99.9 L339.4,98.6 L331.2,97.6 L323.0,96.8 L314.7,96.3 L306.4,96.0 L298.1,96.0 L289.9,97.6 L282.0,100.4 L274.2,103.3 L266.6,106.5 L259.2,110.0 L252.1,113.6 L245.1,117.5 L238.4,121.7 L232.0,126.0 L225.9,130.5 Z" fill="#a8250e"/>
<path d="M369.6,124.5 L374.1,121.6 L378.6,119.0 L383.2,116.5 L387.9,114.1 L392.7,111.9 L397.6,109.8 L402.6,107.9 L407.7,106.1 L412.8,104.5 L417.9,103.1 L423.1,101.8 L428.3,100.7 L433.3,98.9 L438.4,97.2 L443.5,95.8 L448.7,94.4 L453.8,93.3 L459.0,92.3 L464.1,91.5 L469.3,90.8 L474.4,90.3 L479.4,90.0 L484.4,89.9 L489.5,90.0 L490.5,82.0 L485.5,80.8 L480.2,79.7 L474.8,78.8 L469.3,78.1 L463.7,77.6 L458.0,77.3 L452.3,77.2 L446.5,77.3 L440.7,77.5 L434.8,77.9 L428.9,78.5 L422.9,79.3 L417.2,81.1 L411.6,83.1 L406.0,85.2 L400.5,87.5 L395.1,89.9 L389.7,92.6 L384.5,95.3 L379.4,98.3 L374.4,101.4 L369.5,104.6 L364.8,108.0 L360.4,111.5 Z" fill="#c0300f"/>
<path d="M103.1,450.9 L100.9,458.3 L99.4,465.9 L98.7,473.5 L98.7,481.1 L99.4,488.6 L100.8,496.0 L102.9,503.4 L105.6,510.5 L108.9,517.5 L112.8,524.3 L117.1,530.9 L122.0,537.2 L127.3,543.3 L133.0,549.2 L139.4,554.4 L146.1,559.2 L153.2,563.6 L160.5,567.6 L168.0,571.4 L175.6,574.7 L183.4,577.7 L191.4,580.3 L199.4,582.5 L207.4,584.2 L212.7,585.2 L217.8,586.0 L222.8,586.7 L227.7,587.3 L232.5,587.8 L237.1,588.2 L241.7,588.5 L246.1,588.7 L250.5,588.9 L254.7,588.9 L258.9,588.8 L262.9,588.6 L266.9,588.4 L270.7,588.1 L274.5,587.8 L278.1,587.6 L281.7,587.3 L285.2,587.0 L288.6,586.8 L291.9,586.5 L295.1,586.3 L298.3,586.2 L301.3,586.0 L304.4,586.0 L305.6,570.0 L302.3,569.5 L299.0,569.1 L295.6,568.7 L292.2,568.3 L288.8,568.0 L285.3,567.7 L281.7,567.4 L278.2,567.1 L274.5,566.8 L270.8,566.5 L267.1,566.2 L263.3,565.9 L259.5,565.6 L255.6,565.2 L251.6,564.9 L247.6,564.6 L243.5,564.3 L239.3,563.9 L235.0,563.4 L230.7,562.9 L226.3,562.2 L221.8,561.5 L217.2,560.7 L212.6,559.8 L205.6,558.1 L198.8,556.2 L192.0,553.9 L185.4,551.2 L178.9,548.3 L172.5,545.0 L166.4,541.5 L160.5,537.7 L154.9,533.7 L149.5,529.6 L144.1,525.5 L139.0,521.3 L134.3,516.7 L129.9,512.0 L125.9,507.1 L122.4,501.9 L119.3,496.6 L116.7,491.0 L114.6,485.3 L113.0,479.3 L112.0,473.2 L111.6,466.8 L111.9,460.2 L112.9,453.1 Z" fill="#c0300f"/>
<path d="M121.6,492.0 L125.6,489.3 L129.6,486.7 L133.9,484.1 L138.3,481.5 L142.8,478.9 L147.5,476.3 L152.3,473.7 L157.1,471.2 L162.1,468.6 L167.2,466.1 L172.3,463.7 L177.5,461.3 L182.7,458.9 L187.9,456.6 L193.2,454.3 L198.4,452.1 L203.6,449.9 L208.8,447.9 L213.9,445.8 L219.0,443.9 L224.1,442.0 L229.0,440.2 L233.8,438.5 L238.6,436.9 L237.4,433.1 L232.6,434.3 L227.5,435.6 L222.4,437.0 L217.2,438.5 L212.0,440.1 L206.6,441.7 L201.2,443.4 L195.8,445.2 L190.4,447.1 L184.9,449.0 L179.5,451.0 L174.0,453.0 L168.6,455.0 L163.2,457.2 L157.9,459.3 L152.6,461.5 L147.4,463.7 L142.3,466.0 L137.4,468.3 L132.5,470.6 L127.7,472.9 L123.1,475.3 L118.6,477.7 L114.4,480.0 Z" fill="#6a1008"/>
<path d="M378.3,662.1 L375.1,671.6 L372.4,681.1 L370.2,690.5 L368.5,699.8 L367.3,709.0 L366.6,718.1 L366.4,727.1 L366.7,736.0 L367.5,744.8 L368.7,753.5 L370.3,762.1 L372.4,770.5 L375.0,778.8 L377.9,786.9 L381.2,794.9 L385.0,802.8 L389.2,810.4 L394.2,817.5 L399.5,824.4 L405.1,831.1 L411.0,837.6 L417.2,843.9 L423.5,850.0 L430.2,856.0 L435.8,860.5 L441.4,864.7 L447.0,868.8 L452.8,872.6 L458.6,876.3 L464.4,879.8 L470.3,883.2 L476.2,886.4 L482.1,889.4 L488.1,892.2 L494.3,894.5 L500.5,896.6 L506.6,898.7 L512.7,900.6 L518.8,902.4 L524.8,904.1 L530.8,905.7 L536.8,907.3 L542.7,908.7 L548.5,910.1 L554.2,911.3 L559.9,912.6 L565.5,913.7 L571.0,914.8 L573.0,909.2 L567.9,906.7 L562.8,904.3 L557.6,901.7 L552.4,899.2 L547.1,896.5 L541.8,893.8 L536.5,891.1 L531.2,888.2 L525.9,885.3 L520.6,882.3 L515.3,879.3 L510.0,876.1 L504.8,872.9 L499.7,869.5 L494.5,866.3 L489.2,863.2 L484.0,860.0 L478.8,856.7 L473.7,853.2 L468.7,849.6 L463.8,845.9 L459.0,842.1 L454.3,838.1 L449.8,834.0 L444.2,828.6 L438.8,822.9 L433.7,817.2 L428.8,811.3 L424.2,805.4 L420.0,799.3 L416.0,793.1 L411.9,787.1 L407.9,781.0 L404.2,774.8 L400.9,768.4 L397.8,761.8 L395.1,755.0 L392.8,748.0 L390.8,740.8 L389.1,733.4 L387.9,725.8 L387.1,717.9 L386.7,709.8 L386.7,701.5 L387.2,693.0 L388.2,684.3 L389.7,675.3 L391.7,665.9 Z" fill="#c0300f"/>
<path d="M657.4,626.4 L666.4,623.4 L675.4,620.8 L684.5,618.3 L693.7,616.1 L702.9,614.0 L712.2,612.1 L721.6,610.5 L731.1,609.0 L740.2,606.0 L749.0,602.1 L758.0,598.3 L767.2,594.7 L776.6,591.2 L786.2,587.8 L795.9,584.5 L805.8,581.4 L815.8,578.4 L826.0,575.6 L836.4,572.9 L846.9,570.2 L857.5,567.8 L868.3,565.4 L879.2,563.1 L890.3,561.0 L889.7,555.0 L878.4,555.0 L867.1,555.1 L856.0,555.3 L844.9,555.7 L833.8,556.1 L822.9,556.8 L812.1,557.5 L801.3,558.4 L790.6,559.5 L780.0,560.7 L769.5,562.1 L759.0,563.6 L748.7,565.3 L738.4,567.1 L728.2,569.2 L718.5,572.5 L709.5,577.6 L700.7,582.9 L692.1,588.3 L683.8,593.9 L675.6,599.6 L667.7,605.5 L660.0,611.5 L652.6,617.6 Z" fill="#a8250e"/>
<path d="M787.6,536.0 L793.1,536.4 L798.9,536.4 L804.5,536.1 L810.1,535.5 L815.6,534.6 L821.1,533.4 L826.4,532.0 L831.8,530.4 L837.0,528.6 L842.3,526.6 L847.5,524.5 L852.6,522.3 L857.4,519.3 L862.2,516.3 L866.9,513.2 L871.7,510.0 L876.5,506.9 L881.3,503.7 L886.1,500.6 L891.0,497.5 L896.0,494.4 L901.1,491.4 L906.2,488.5 L911.5,485.7 L908.5,478.3 L902.6,480.1 L896.8,482.0 L891.1,484.0 L885.5,486.1 L879.9,488.2 L874.4,490.4 L869.0,492.5 L863.7,494.6 L858.4,496.7 L853.3,498.7 L848.2,500.6 L843.1,502.4 L838.5,504.8 L833.9,507.0 L829.4,509.1 L824.8,510.9 L820.3,512.6 L815.9,514.1 L811.4,515.4 L806.9,516.4 L802.4,517.2 L797.9,517.8 L793.3,518.0 L788.4,518.0 Z" fill="#c0300f"/>
<line x1="545" y1="305" x2="877" y2="160" stroke="#b02812" stroke-width="10"/>
<path d="M602.9,274.8 L605.8,272.5 L608.7,270.5 L611.7,268.7 L614.6,267.0 L617.7,265.5 L620.7,264.1 L623.7,262.9 L626.8,261.8 L629.8,260.9 L632.8,260.2 L635.8,259.6 L638.7,259.2 L641.3,257.7 L643.8,256.4 L646.4,255.1 L649.1,254.0 L651.8,253.1 L654.5,252.3 L657.2,251.6 L659.9,251.1 L662.7,250.8 L665.4,250.6 L668.2,250.6 L671.1,250.9 L672.9,245.1 L670.2,243.6 L667.3,242.1 L664.2,240.9 L660.9,239.8 L657.6,239.0 L654.1,238.3 L650.6,237.8 L646.9,237.5 L643.2,237.4 L639.4,237.5 L635.6,237.8 L631.8,238.3 L628.3,240.2 L625.0,242.2 L621.7,244.3 L618.5,246.6 L615.5,249.0 L612.5,251.6 L609.6,254.2 L606.9,257.0 L604.2,259.9 L601.7,263.0 L599.3,266.1 L597.1,269.2 Z" fill="#c0300f"/>
</g>
<g transform="translate(1090,250) scale(0.114943)" stroke-linecap="round" filter="url(#spkR)">
<line x1="112" y1="620" x2="1538" y2="170" stroke="#9a2010" stroke-width="26"/>
<ellipse cx="500" cy="490" rx="40" ry="18" fill="#a52a10" transform="rotate(-18 500 490)"/>
<ellipse cx="565" cy="445" rx="30" ry="14" fill="none" stroke="#b03015" stroke-width="7"/>
</g>

<g transform="translate(1450,190) scale(0.22449)" stroke-linecap="round">
<line x1="535" y1="272" x2="824" y2="42" stroke="#d55a20" stroke-width="11"/>
<path d="M479.0,621.9 L488.8,625.7 L498.7,629.4 L508.8,632.9 L519.0,636.3 L529.3,639.6 L539.8,642.7 L550.3,645.7 L561.0,648.4 L571.8,651.0 L582.8,652.8 L593.9,653.5 L605.0,654.0 L616.2,654.2 L627.4,654.2 L638.7,654.0 L649.9,653.6 L661.2,652.9 L672.5,652.0 L683.7,650.8 L694.9,648.5 L706.0,645.8 L717.0,642.8 L727.9,639.5 L738.8,635.9 L737.2,628.1 L726.0,628.7 L714.9,629.1 L703.9,629.2 L692.9,629.0 L682.0,628.7 L671.2,629.0 L660.4,629.1 L649.6,628.9 L638.9,628.5 L628.2,627.9 L617.6,627.1 L607.0,626.0 L596.4,624.8 L585.9,623.3 L575.4,622.6 L564.8,622.4 L554.2,621.9 L543.6,621.3 L533.1,620.5 L522.6,619.5 L512.1,618.4 L501.7,617.1 L491.3,615.7 L481.0,614.1 Z" fill="#d55a20"/>
<path d="M480.3,679.6 L487.3,684.2 L494.9,688.8 L503.0,693.2 L511.4,697.5 L520.2,701.6 L529.4,705.6 L538.9,709.4 L548.8,713.0 L558.9,716.5 L569.3,719.1 L580.1,720.5 L591.1,721.7 L602.1,722.7 L613.3,723.4 L624.5,723.9 L635.7,724.1 L646.9,724.0 L658.2,723.6 L669.4,723.0 L680.4,721.2 L691.3,718.8 L702.0,716.2 L712.5,713.2 L722.7,709.9 L721.3,702.1 L710.8,702.4 L700.3,702.5 L689.7,702.2 L679.1,701.5 L668.5,700.8 L658.0,700.6 L647.3,700.2 L636.7,699.5 L626.2,698.5 L615.7,697.2 L605.2,695.7 L594.9,694.0 L584.7,692.1 L574.7,689.9 L564.7,688.4 L554.8,687.4 L545.0,686.2 L535.4,684.7 L526.1,683.1 L517.0,681.3 L508.2,679.3 L499.8,677.2 L491.6,674.9 L483.7,672.4 Z" fill="#d55a20"/>
<path d="M533.9,764.8 L540.7,768.5 L547.9,772.0 L555.4,775.4 L563.3,778.7 L571.5,781.7 L579.9,784.6 L588.5,787.3 L597.3,789.8 L606.2,792.1 L615.3,793.7 L624.6,794.4 L633.8,794.8 L643.0,795.1 L652.2,795.1 L661.3,795.0 L670.2,794.6 L679.1,794.0 L687.7,793.1 L696.2,792.1 L704.3,790.0 L712.0,787.6 L719.4,784.9 L726.4,782.0 L732.8,778.9 L731.2,773.1 L724.3,773.8 L717.1,774.1 L709.7,774.3 L702.1,774.2 L694.3,774.1 L686.3,774.4 L678.2,774.6 L669.8,774.6 L661.4,774.4 L652.8,773.9 L644.1,773.3 L635.4,772.4 L626.8,771.4 L618.1,770.1 L609.4,769.4 L600.7,769.0 L592.0,768.5 L583.5,767.7 L575.1,766.8 L566.8,765.6 L558.8,764.3 L551.0,762.8 L543.4,761.1 L536.1,759.2 Z" fill="#d55a20"/>
<path d="M591.9,860.0 L598.0,860.9 L604.2,861.8 L610.5,862.5 L617.0,863.1 L623.5,863.7 L630.1,864.1 L636.8,864.5 L643.6,864.8 L650.4,865.0 L657.2,864.7 L663.9,863.7 L670.6,862.6 L677.3,861.4 L684.0,860.2 L690.6,858.9 L697.2,857.6 L703.7,856.3 L710.1,854.9 L716.5,853.4 L722.7,852.0 L728.9,850.5 L734.9,849.0 L740.8,847.5 L746.6,845.9 L745.4,840.1 L739.5,840.8 L733.5,841.5 L727.4,842.1 L721.2,842.8 L714.9,843.4 L708.4,844.0 L702.0,844.5 L695.4,845.1 L688.8,845.5 L682.2,846.0 L675.6,846.3 L668.9,846.7 L662.2,846.9 L655.6,847.1 L649.0,848.0 L642.5,849.2 L636.0,850.3 L629.5,851.4 L623.1,852.4 L616.8,853.3 L610.5,854.1 L604.3,854.8 L598.1,855.5 L592.1,856.0 Z" fill="#d55a20"/>
<path d="M655.5,579.9 L659.4,579.5 L663.3,579.1 L667.1,578.6 L670.9,578.2 L674.6,577.8 L678.3,577.4 L682.0,577.0 L685.6,576.7 L689.1,576.3 L692.6,576.0 L696.1,575.7 L699.4,575.5 L702.5,574.2 L705.5,573.0 L708.4,571.8 L711.3,570.6 L714.1,569.5 L716.9,568.4 L719.6,567.4 L722.3,566.4 L724.9,565.5 L727.4,564.6 L729.9,563.8 L732.3,563.0 L731.7,557.0 L729.0,556.8 L726.3,556.7 L723.5,556.6 L720.6,556.5 L717.6,556.6 L714.6,556.6 L711.5,556.8 L708.3,556.9 L705.1,557.2 L701.8,557.4 L698.5,557.7 L695.1,558.0 L691.9,559.4 L688.7,560.9 L685.4,562.3 L682.1,563.8 L678.8,565.3 L675.4,566.8 L672.0,568.3 L668.6,569.8 L665.1,571.4 L661.6,572.9 L658.1,574.5 L654.5,576.1 Z" fill="#d55a20"/>
<path d="M610.4,920.5 L612.9,920.4 L615.3,920.3 L617.7,920.2 L620.0,920.2 L622.3,920.2 L624.5,920.2 L626.7,920.2 L628.9,920.3 L631.0,920.4 L633.0,920.4 L635.1,920.5 L637.1,920.6 L639.0,920.2 L640.9,919.8 L642.8,919.4 L644.6,919.0 L646.4,918.6 L648.2,918.2 L650.0,917.8 L651.7,917.3 L653.4,916.9 L655.1,916.4 L656.7,916.0 L658.4,915.5 L657.6,910.5 L656.0,910.5 L654.3,910.5 L652.6,910.4 L650.9,910.4 L649.2,910.3 L647.5,910.2 L645.7,910.1 L643.8,910.0 L642.0,909.9 L640.1,909.8 L638.2,909.7 L636.2,909.6 L634.2,910.1 L632.2,910.5 L630.1,910.9 L628.0,911.3 L625.9,911.8 L623.7,912.3 L621.5,912.7 L619.2,913.3 L616.9,913.8 L614.5,914.3 L612.1,914.9 L609.6,915.5 Z" fill="#d55a20"/>
<path d="M497.9,937.1 L499.6,939.2 L501.3,941.2 L503.0,943.3 L504.6,945.3 L506.3,947.3 L508.0,949.4 L509.6,951.4 L511.3,953.4 L512.9,955.3 L514.5,957.3 L516.1,959.2 L517.6,961.1 L519.5,962.6 L521.4,964.1 L523.2,965.6 L525.0,967.1 L526.7,968.5 L528.5,969.8 L530.1,971.1 L531.8,972.4 L533.4,973.7 L534.9,974.9 L536.4,976.0 L537.9,977.1 L542.1,972.9 L541.0,971.4 L539.9,969.9 L538.7,968.4 L537.4,966.8 L536.1,965.1 L534.8,963.5 L533.5,961.7 L532.1,960.0 L530.6,958.2 L529.1,956.4 L527.6,954.5 L526.1,952.6 L524.2,951.1 L522.3,949.5 L520.3,947.9 L518.4,946.3 L516.4,944.6 L514.4,943.0 L512.3,941.3 L510.3,939.6 L508.3,938.0 L506.2,936.3 L504.2,934.6 L502.1,932.9 Z" fill="#d55a20"/>
<path d="M203.4,179.4 L196.3,183.3 L189.3,187.2 L182.4,191.3 L175.6,195.6 L168.9,200.0 L162.4,204.5 L156.0,209.3 L149.8,214.1 L143.8,219.2 L138.1,224.5 L132.9,230.3 L127.9,236.2 L123.1,242.3 L118.7,248.5 L114.5,254.8 L110.6,261.4 L107.0,268.1 L103.7,274.9 L100.8,281.9 L98.2,289.1 L96.0,296.4 L94.2,303.9 L92.7,311.5 L91.7,319.3 L90.8,329.4 L90.1,339.3 L89.4,349.2 L88.9,358.9 L88.5,368.5 L88.1,378.1 L87.9,387.6 L87.7,397.0 L87.5,406.4 L87.4,415.7 L87.2,425.0 L87.1,434.2 L87.0,443.5 L86.9,452.6 L86.7,461.8 L86.5,470.9 L86.2,480.1 L85.9,489.2 L85.5,498.4 L85.1,507.5 L84.5,516.7 L83.8,526.0 L83.0,535.2 L82.0,544.6 L90.0,545.4 L91.1,536.1 L92.2,526.7 L93.1,517.4 L93.9,508.2 L94.6,498.9 L95.2,489.7 L95.7,480.5 L96.2,471.3 L96.6,462.1 L97.0,452.9 L97.3,443.7 L97.6,434.5 L97.9,425.3 L98.3,416.0 L98.6,406.7 L99.0,397.4 L99.4,388.0 L99.9,378.6 L100.4,369.1 L101.0,359.6 L101.7,350.0 L102.5,340.3 L103.3,330.5 L104.3,320.7 L105.4,313.7 L106.9,306.8 L108.7,300.0 L110.9,293.4 L113.3,286.9 L116.2,280.6 L119.3,274.4 L122.7,268.4 L126.4,262.5 L130.4,256.7 L134.6,251.1 L139.1,245.5 L143.9,240.2 L148.9,234.9 L153.9,229.5 L158.9,224.1 L164.2,218.8 L169.7,213.6 L175.4,208.5 L181.3,203.5 L187.4,198.6 L193.6,193.8 L200.0,189.1 L206.6,184.6 Z" fill="#d55a20"/>
<path d="M188.2,198.3 L183.1,203.2 L178.1,208.2 L173.2,213.3 L168.6,218.5 L164.0,223.8 L159.6,229.2 L155.4,234.6 L151.4,240.1 L147.5,245.6 L143.7,251.2 L140.2,256.8 L136.8,262.4 L134.0,268.2 L131.4,274.1 L129.0,279.9 L126.7,285.7 L124.7,291.4 L122.8,297.1 L121.1,302.7 L119.6,308.2 L118.3,313.7 L117.2,319.1 L116.3,324.4 L115.5,329.5 L120.5,330.5 L121.7,325.5 L123.0,320.5 L124.6,315.4 L126.3,310.3 L128.3,305.1 L130.3,299.8 L132.6,294.5 L135.0,289.2 L137.6,283.8 L140.4,278.4 L143.4,273.0 L146.5,267.6 L149.3,262.0 L152.3,256.3 L155.5,250.7 L158.9,245.1 L162.4,239.5 L166.1,233.9 L169.9,228.4 L174.0,223.0 L178.2,217.5 L182.5,212.2 L187.1,206.9 L191.8,201.7 Z" fill="#d55a20"/>
<path d="M173.9,223.9 L169.5,228.3 L165.2,232.7 L161.0,237.1 L156.8,241.5 L152.8,246.0 L149.0,250.5 L145.2,255.1 L141.5,259.6 L138.0,264.1 L134.6,268.7 L131.3,273.2 L128.1,277.7 L125.3,282.4 L122.6,287.0 L120.0,291.5 L117.6,296.0 L115.4,300.5 L113.2,304.8 L111.2,309.2 L109.4,313.4 L107.7,317.6 L106.2,321.7 L104.8,325.6 L103.6,329.5 L106.4,330.5 L107.9,326.8 L109.4,322.9 L111.2,319.0 L113.0,315.1 L115.1,311.0 L117.2,306.9 L119.6,302.7 L122.0,298.4 L124.6,294.1 L127.3,289.8 L130.2,285.4 L133.1,281.0 L136.0,276.4 L139.1,271.9 L142.2,267.2 L145.5,262.6 L148.9,258.0 L152.4,253.4 L156.1,248.8 L159.9,244.2 L163.7,239.6 L167.7,235.0 L171.8,230.5 L176.1,226.1 Z" fill="#d55a20"/>
<path d="M137.9,316.6 L135.0,320.5 L132.0,324.4 L129.1,328.3 L126.3,332.3 L123.5,336.4 L120.7,340.5 L118.0,344.6 L115.4,348.8 L112.9,353.0 L110.4,357.3 L108.0,361.7 L105.6,366.1 L103.9,370.8 L102.3,375.5 L100.8,380.2 L99.4,385.0 L98.1,389.9 L97.0,394.7 L95.9,399.6 L95.0,404.6 L94.2,409.5 L93.5,414.6 L92.9,419.6 L92.5,424.7 L97.5,425.3 L98.5,420.4 L99.5,415.7 L100.8,410.9 L102.1,406.3 L103.6,401.6 L105.1,397.1 L106.8,392.6 L108.6,388.2 L110.4,383.8 L112.4,379.4 L114.5,375.2 L116.6,370.9 L118.3,366.5 L120.1,362.1 L122.0,357.7 L123.9,353.4 L126.0,349.0 L128.1,344.7 L130.2,340.4 L132.5,336.2 L134.8,332.0 L137.2,327.8 L139.6,323.6 L142.1,319.4 Z" fill="#d55a20"/>
<path d="M119.7,377.1 L117.4,382.2 L115.1,387.4 L112.9,392.6 L110.8,397.7 L108.8,402.8 L106.9,407.9 L105.0,413.0 L103.2,418.1 L101.5,423.2 L99.9,428.3 L98.3,433.4 L96.8,438.5 L95.8,443.6 L94.9,448.8 L94.1,453.9 L93.4,459.1 L92.7,464.2 L92.0,469.3 L91.5,474.4 L91.0,479.5 L90.5,484.6 L90.1,489.6 L89.8,494.7 L89.5,499.7 L94.5,500.3 L95.3,495.3 L96.1,490.4 L97.0,485.4 L97.9,480.5 L98.9,475.6 L99.9,470.6 L101.0,465.7 L102.2,460.8 L103.4,455.8 L104.7,450.9 L106.1,446.0 L107.5,441.0 L108.5,436.0 L109.5,430.9 L110.7,425.8 L111.9,420.7 L113.2,415.5 L114.5,410.4 L115.9,405.2 L117.5,400.0 L119.0,394.8 L120.7,389.5 L122.5,384.2 L124.3,378.9 Z" fill="#d55a20"/>
<path d="M166.4,157.1 L168.4,156.0 L170.4,155.0 L172.5,153.9 L174.6,152.9 L176.7,151.9 L178.9,150.9 L181.0,149.9 L183.2,149.0 L185.4,148.1 L187.6,147.2 L189.8,146.3 L192.0,145.5 L194.0,144.4 L195.9,143.2 L197.9,142.1 L199.8,141.1 L201.8,140.1 L203.7,139.2 L205.5,138.3 L207.4,137.5 L209.2,136.8 L210.9,136.1 L212.6,135.5 L214.3,135.0 L213.7,131.0 L211.8,131.1 L209.8,131.2 L207.8,131.4 L205.7,131.7 L203.6,132.1 L201.4,132.6 L199.2,133.1 L197.0,133.6 L194.7,134.3 L192.4,134.9 L190.1,135.7 L187.8,136.5 L185.6,137.7 L183.5,139.0 L181.4,140.3 L179.3,141.6 L177.2,143.0 L175.2,144.4 L173.1,145.8 L171.2,147.2 L169.2,148.6 L167.3,150.0 L165.4,151.5 L163.6,152.9 Z" fill="#d55a20"/>
<ellipse cx="493" cy="307" rx="55" ry="45" fill="#7c2f8e" transform="rotate(-20 493 307)"/>
<circle cx="285" cy="350" r="5" fill="#d55a20"/>
<circle cx="590" cy="255" r="5" fill="#d55a20"/>
<circle cx="550" cy="322" r="5" fill="#d55a20"/>
<circle cx="592" cy="322" r="5" fill="#d55a20"/>
<circle cx="600" cy="360" r="7" fill="#d55a20"/>
<circle cx="555" cy="385" r="6" fill="#d55a20"/>
<circle cx="645" cy="385" r="6" fill="#d55a20"/>
<circle cx="683" cy="300" r="5" fill="#d55a20"/>
<circle cx="705" cy="348" r="5" fill="#d55a20"/>
<circle cx="690" cy="448" r="5" fill="#d55a20"/>
<circle cx="603" cy="488" r="5" fill="#d55a20"/>
<circle cx="833" cy="338" r="5" fill="#d55a20"/>
<circle cx="838" cy="497" r="4" fill="#d55a20"/>
<circle cx="300" cy="428" r="6" fill="#d55a20"/>
<circle cx="340" cy="460" r="6" fill="#d55a20"/>
<circle cx="505" cy="940" r="5" fill="#d55a20"/>
<circle cx="655" cy="552" r="4" fill="#d55a20"/>
<circle cx="705" cy="405" r="4" fill="#d55a20"/>
<line x1="264" y1="426" x2="282" y2="432" stroke="#d55a20" stroke-width="11"/>
<line x1="310" y1="460" x2="329" y2="460" stroke="#d55a20" stroke-width="11"/>
<line x1="259" y1="479" x2="270" y2="481" stroke="#d55a20" stroke-width="15"/>
<line x1="278" y1="518" x2="290" y2="493" stroke="#d55a20" stroke-width="14"/>
<line x1="336" y1="549" x2="343" y2="535" stroke="#d55a20" stroke-width="12"/>
<line x1="272" y1="580" x2="284" y2="576" stroke="#d55a20" stroke-width="15"/>
<line x1="265" y1="607" x2="285" y2="605" stroke="#d55a20" stroke-width="11"/>
<line x1="344" y1="603" x2="355" y2="580" stroke="#d55a20" stroke-width="11"/>
<line x1="303" y1="609" x2="314" y2="632" stroke="#d55a20" stroke-width="14"/>
<line x1="362" y1="625" x2="373" y2="631" stroke="#d55a20" stroke-width="12"/>
<line x1="307" y1="638" x2="320" y2="660" stroke="#d55a20" stroke-width="12"/>
<line x1="340" y1="658" x2="367" y2="650" stroke="#d55a20" stroke-width="12"/>
<line x1="263" y1="669" x2="287" y2="683" stroke="#d55a20" stroke-width="12"/>
<line x1="359" y1="681" x2="370" y2="689" stroke="#d55a20" stroke-width="13"/>
<line x1="300" y1="719" x2="310" y2="710" stroke="#d55a20" stroke-width="11"/>
<line x1="385" y1="708" x2="401" y2="711" stroke="#d55a20" stroke-width="10"/>
<line x1="272" y1="742" x2="285" y2="753" stroke="#d55a20" stroke-width="14"/>
<line x1="344" y1="742" x2="352" y2="757" stroke="#d55a20" stroke-width="16"/>
<line x1="401" y1="736" x2="412" y2="751" stroke="#d55a20" stroke-width="12"/>
<line x1="283" y1="782" x2="291" y2="773" stroke="#d55a20" stroke-width="15"/>
<line x1="352" y1="766" x2="360" y2="774" stroke="#d55a20" stroke-width="11"/>
<line x1="382" y1="772" x2="390" y2="764" stroke="#d55a20" stroke-width="11"/>
<line x1="307" y1="803" x2="322" y2="814" stroke="#d55a20" stroke-width="11"/>
<line x1="363" y1="797" x2="372" y2="802" stroke="#d55a20" stroke-width="10"/>
<line x1="407" y1="796" x2="420" y2="813" stroke="#d55a20" stroke-width="12"/>
<line x1="295" y1="839" x2="313" y2="830" stroke="#d55a20" stroke-width="11"/>
<line x1="352" y1="812" x2="376" y2="824" stroke="#d55a20" stroke-width="9"/>
<line x1="403" y1="823" x2="416" y2="838" stroke="#d55a20" stroke-width="11"/>
<line x1="295" y1="860" x2="302" y2="871" stroke="#d55a20" stroke-width="10"/>
<line x1="333" y1="848" x2="345" y2="846" stroke="#d55a20" stroke-width="15"/>
<line x1="410" y1="848" x2="426" y2="850" stroke="#d55a20" stroke-width="12"/>
<line x1="283" y1="884" x2="295" y2="873" stroke="#d55a20" stroke-width="14"/>
<line x1="331" y1="870" x2="354" y2="882" stroke="#d55a20" stroke-width="14"/>
<line x1="387" y1="876" x2="398" y2="875" stroke="#d55a20" stroke-width="14"/>
<line x1="405" y1="896" x2="423" y2="883" stroke="#d55a20" stroke-width="11"/>
</g>
<defs><filter id="blr2" x="-0.3" y="-0.3" width="1.6" height="1.6"><feGaussianBlur stdDeviation="18"/></filter></defs>
<g transform="translate(50,690) scale(0.244898)" stroke-linecap="round">
<path d="M560,110 C680,120 800,250 840,420 C860,560 800,700 700,780 L560,800 Z" fill="#d8d8d8" opacity="0.18" filter="url(#blr2)"/>
<path d="M144,66 C120,70 105,90 99,108 C80,160 72,224 70,300 C68,379 75,460 93,534 C108,600 130,640 160,690 C190,740 210,770 235,792 C280,845 320,880 351,909 C380,935 405,960 429,973 C450,982 470,980 480,973 C492,965 497,955 493,947 C490,925 480,910 467,896 L390,799 L287,683 L200,500 L180,250 L235,179 C210,130 190,90 170,80 C160,70 150,66 144,66 Z" fill="#080808"/>
<path d="M183,224 C205,190 225,170 248,160 C290,135 330,122 377,114 C420,104 450,94 480,92 C520,92 550,100 571,108 C600,120 625,130 648,147 C670,165 690,190 700,211 C725,260 740,290 752,328 C768,380 775,430 777,482 C778,520 780,560 777,586 C772,610 765,625 752,637 C735,670 720,700 700,715 C670,740 635,757 597,767 C550,782 490,792 442,793 C410,795 385,792 364,786 C335,760 310,740 287,715 C260,680 240,650 222,612 C200,560 180,510 170,457 C162,410 160,370 164,328 C168,280 172,250 183,224 Z" fill="#121212"/>
<path d="M222,263 C260,210 300,175 338,160 C400,140 470,135 519,140 C570,150 620,180 648,211 C680,260 695,300 700,353 C708,410 715,460 713,508 C708,560 695,590 674,612 C640,645 610,665 571,676 C520,695 460,710 403,715 C360,715 320,700 287,676 C255,640 225,600 209,560 C195,510 185,450 183,392 C185,340 200,295 222,263 Z" fill="#1c1c1c" stroke="#2e2e2e" stroke-width="12"/>
<path d="M261,263 C300,225 340,205 377,198 C430,190 480,188 519,192 C560,200 600,220 622,250 C645,290 658,330 661,379 C665,430 660,490 648,534 C635,575 605,600 571,612 C530,625 470,630 416,625 C375,610 345,590 325,560 C300,520 275,485 261,444 C250,380 250,310 261,263 Z" fill="#222"/>
<path d="M238,420 C245,392 268,385 290,384 C310,375 335,362 355,372 C385,385 405,405 398,428 C392,455 380,470 385,495 C380,520 355,540 330,538 C310,548 290,540 275,525 C255,520 240,505 238,480 C230,460 232,440 238,420 Z" fill="#3c3c3c" stroke="#262626" stroke-width="12"/>
<circle cx="300" cy="455" r="20" fill="#333"/>
<g stroke="#3c3c3c" stroke-width="18">
<path d="M344,180 L384,170"/><path d="M490,160 L525,175"/><path d="M228,296 L240,258"/><path d="M640,512 L656,478"/><path d="M488,618 L525,593"/><path d="M335,622 L368,642"/>
</g>
<path d="M603,131 C650,135 700,147 740,165 C770,180 790,195 790,211 C790,220 780,224 771,224" fill="none" stroke="#1a1a1a" stroke-width="6"/>
<path d="M777,218 L713,295" stroke="#0e0e0e" stroke-width="16"/>
<path d="M719,482 L835,506" stroke="#1a1a1a" stroke-width="6"/>
<ellipse cx="836" cy="506" rx="17" ry="14" fill="#0e0e0e"/>
<path d="M652,462 C665,450 672,468 660,475" fill="none" stroke="#666" stroke-width="5"/>
<g fill="#111"><rect x="735" y="330" width="22" height="40" rx="6"/><rect x="752" y="430" width="22" height="36" rx="6"/><rect x="758" y="540" width="22" height="36" rx="6"/></g>
</g>

<g transform="translate(400,690) scale(0.244898)" stroke-linecap="round" fill="none">
<path d="M120,66 C160,50 220,38 270,55 C330,80 400,100 470,118 C540,135 600,150 640,182" stroke="#262626" stroke-width="8"/>
<ellipse cx="428" cy="95" rx="17" ry="18" fill="#2a2a2a"/>
<path d="M278,127 L342,141" stroke="#a8a8a8" stroke-width="17"/>
<path d="M383,492 L540,330" stroke="#262626" stroke-width="11"/>
<path d="M553,318 L575,296 M588,282 L608,264 M622,250 L638,236 M648,228 L656,220" stroke="#333" stroke-width="8"/>
<path d="M560,206 L577,230" stroke="#333" stroke-width="24"/>
<path d="M518,288 L533,305" stroke="#333" stroke-width="22"/>
<circle cx="545" cy="446" r="27" fill="#3a3a3a"/>
<circle cx="540" cy="440" r="12" fill="#555"/>
<path d="M640,440 C612,425 592,448 603,463 C614,474 632,466 642,462" stroke="#444" stroke-width="16"/>
<path d="M652,452 L668,476" stroke="#333" stroke-width="22"/>
<path d="M580,470 L578,522" stroke="#7a7a7a" stroke-width="22"/>
<path d="M436,508 L893,513" stroke="#262626" stroke-width="10"/>
<path d="M706,558 L712,582" stroke="#333" stroke-width="22"/>
<path d="M55,578 C75,556 130,544 175,555 C205,565 215,600 205,632 C195,652 175,662 155,660 C168,640 178,612 162,594 C140,582 100,590 55,578 Z" fill="#a8a8a8"/>
<g fill="#f0f0f0"><ellipse cx="95" cy="575" rx="4" ry="3"/><ellipse cx="135" cy="570" rx="5" ry="3"/><ellipse cx="180" cy="590" rx="4" ry="4"/><ellipse cx="190" cy="620" rx="3" ry="4"/><ellipse cx="160" cy="578" rx="3" ry="3"/></g>
<path d="M130,736 L165,822 L180,880 L196,928 L340,802" stroke="#1c1c1c" stroke-width="10" stroke-linejoin="round"/>
</g>

<g transform="translate(720,670) scale(0.244898)" stroke-linecap="round" fill="none">
<path d="M135,98 C170,85 210,68 250,70 C300,75 350,105 430,130 C500,150 570,175 612,203" stroke="#8a1010" stroke-width="6"/>
<ellipse cx="432" cy="132" rx="17" ry="16" fill="#8a0e0e"/>
<path d="M292,165 L353,182" stroke="#ee1111" stroke-width="20"/>
<path d="M576,262 L594,285" stroke="#a01515" stroke-width="16"/>
<path d="M566,326 L595,296" stroke="#c01515" stroke-width="6"/>
<path d="M496,308 L515,328" stroke="#a01515" stroke-width="16"/>
<path d="M400,538 L540,365" stroke="#dd1414" stroke-width="9"/>
<circle cx="530" cy="475" r="30" fill="#dd1111"/>
<path d="M640,492 C650,510 655,530 668,540 C678,548 685,545 685,545" stroke="#a01010" stroke-width="20"/>
<path d="M630,552 L632,608" stroke="#ee1111" stroke-width="24"/>
<path d="M457,560 L925,605" stroke="#a01010" stroke-width="6"/>
<path d="M706,612 L712,632" stroke="#a01010" stroke-width="18"/>
<path d="M73,612 C80,590 130,576 160,578 C200,583 232,612 234,645 C235,675 212,697 180,704 L172,690 C192,670 200,650 186,632 C168,617 140,620 110,630 C90,634 75,626 73,612 Z" fill="#ff0a0a"/>
<g fill="#f0f0f0"><ellipse cx="118" cy="600" rx="5" ry="4"/><ellipse cx="150" cy="605" rx="5" ry="4"/><ellipse cx="172" cy="612" rx="4" ry="5"/><ellipse cx="198" cy="625" rx="5" ry="4"/><ellipse cx="212" cy="618" rx="4" ry="4"/><ellipse cx="206" cy="645" rx="4" ry="3"/></g>
<defs><linearGradient id="vg3" gradientUnits="userSpaceOnUse" x1="235" y1="0" x2="370" y2="0"><stop offset="0" stop-color="#3a0505"/><stop offset="0.35" stop-color="#4a0808"/><stop offset="1" stop-color="#c01a1a"/></linearGradient></defs><path d="M236,835 L255,910 L255,978 L370,855" stroke="url(#vg3)" stroke-width="8" stroke-linejoin="round"/>
</g>

<g transform="translate(1110,720) scale(0.114943)" stroke-linecap="round" fill="none">
<path d="M200,735 L490,135" stroke="#d01010" stroke-width="26"/>
<path d="M345,760 L1525,665" stroke="#a81010" stroke-width="24"/>
</g>

<g transform="translate(1440,690) scale(0.244898)" stroke-linecap="round" fill="none">
<path d="M145,85 C180,70 210,50 250,52 C300,60 340,90 410,110 C470,128 540,145 578,175" stroke="#d9571c" stroke-width="6"/>
<ellipse cx="415" cy="118" rx="16" ry="19" fill="#d9571c"/>
<path d="M283,145 L345,162" stroke="#d9571c" stroke-width="18"/>
<path d="M405,450 L500,320" stroke="#d9571c" stroke-width="6"/>
<path d="M510,305 L525,288 M532,280 L545,265 M555,250 L570,230 M578,220 L588,208" stroke="#d9571c" stroke-width="6"/>
<path d="M535,240 L560,275 M565,240 L530,280" stroke="#d9571c" stroke-width="11"/>
<path d="M465,265 L483,285" stroke="#d9571c" stroke-width="16"/>
<circle cx="490" cy="415" r="28" fill="#d9571c"/>
<path d="M505,430 L512,460" stroke="#d9571c" stroke-width="6"/>
<path d="M590,442 L606,466" stroke="#d9571c" stroke-width="14"/>
<path d="M480,520 L845,578" stroke="#d9571c" stroke-width="7"/>
<path d="M582,520 L578,585" stroke="#d9571c" stroke-width="20"/>
<path d="M605,502 L615,525" stroke="#d9571c" stroke-width="14"/>
<path d="M640,540 L655,580" stroke="#d9571c" stroke-width="18"/>
<circle cx="375" cy="495" r="48" fill="#7c2f8e"/>
<ellipse cx="430" cy="515" rx="52" ry="38" fill="#7c2f8e"/>
<path d="M78,548 C105,525 170,515 205,548 C228,572 222,618 178,638 L170,626 C190,605 192,582 168,570 C135,560 100,566 78,548 Z" fill="#d9571c"/>
<g fill="#f0f0f0"><ellipse cx="120" cy="548" rx="4" ry="3"/><ellipse cx="160" cy="552" rx="4" ry="3"/><ellipse cx="195" cy="575" rx="3" ry="4"/></g>
<circle cx="122" cy="243" r="5" fill="#d9571c"/><circle cx="145" cy="478" r="5" fill="#d9571c"/>
<path d="M225,800 L240,870 L235,920 L335,782" stroke="#d9571c" stroke-width="7" stroke-linejoin="round"/>
</g>

<rect x="8" y="373" width="73.0" height="62.0" fill="#f0f0f0"/>
<rect x="344" y="363.7" width="91.0" height="72.3" fill="#f0f0f0"/>
<rect x="689.2" y="363.7" width="100.6" height="72.3" fill="#f0f0f0"/>
<rect x="1035" y="358.4" width="106.5" height="72.1" fill="#f0f0f0"/>
<rect x="1407" y="365.6" width="106.5" height="69.0" fill="#f0f0f0"/>

<rect x="54.0" y="128.5" width="238.4" height="58.3" fill="#fff" stroke="#000" stroke-width="2"/>
<rect x="372.3" y="129.0" width="237.4" height="57.2" fill="#fff" stroke="#000" stroke-width="2"/>
<rect x="710.4" y="128.6" width="238.6" height="57.8" fill="#fff" stroke="#000" stroke-width="2"/>
<rect x="1049.1" y="117.0" width="238.0" height="81.3" fill="#fff" stroke="#000" stroke-width="2"/>
<rect x="1429.0" y="124.4" width="250.0" height="57.4" fill="#fff" stroke="#000" stroke-width="2"/>
<rect x="39.5" y="619.4" width="238.0" height="57.0" fill="#fff" stroke="#000" stroke-width="2"/>
<rect x="373.4" y="616.4" width="237.6" height="58.0" fill="#fff" stroke="#000" stroke-width="2"/>
<rect x="720.2" y="613.0" width="238.8" height="57.5" fill="#fff" stroke="#000" stroke-width="2"/>
<rect x="1059.0" y="601.5" width="238.0" height="80.7" fill="#fff" stroke="#000" stroke-width="2"/>
<rect x="1429.0" y="616.7" width="250.2" height="57.8" fill="#fff" stroke="#000" stroke-width="2"/>
<g font-family='"Liberation Sans", sans-serif' fill="#000" opacity="0.999">
<text x="22.5" y="53.1" font-size="40.4" font-weight="bold" text-anchor="start">A</text>
<text x="24" y="593" font-size="40" font-weight="bold" text-anchor="start">B</text>
<text x="336.8" y="62.1" font-size="26.6" font-weight="bold" text-anchor="middle">Preprocessing</text>
<text x="987.5" y="40.9" font-size="26.6" font-weight="bold" text-anchor="middle">Connected Component Analysis</text>
<text x="987.8" y="76.5" font-size="26.6" font-weight="bold" text-anchor="middle">and Object Filtering</text>
<text x="1554.4" y="38.9" font-size="26.6" font-weight="bold" text-anchor="middle">Feature Extraction</text>
<text x="1553.7" y="75.9" font-size="26.6" font-weight="bold" text-anchor="middle">Ablation Zone Overlay</text>
<text x="173.2" y="163.6" font-size="19.4" text-anchor="middle">Swine CT Image</text>
<text x="491" y="164.2" font-size="19.4" text-anchor="middle">Preprocessed Image</text>
<text x="829.7" y="164" font-size="19.4" text-anchor="middle">Volume Filtered Image</text>
<text x="1168.2" y="153" font-size="19.4" text-anchor="middle">Shape &amp; Location</text>
<text x="1168.3" y="176" font-size="19.4" text-anchor="middle">Filtered Image</text>
<text x="1554" y="160" font-size="19.4" text-anchor="middle">Ablation Zone Prediction</text>
<text x="158.5" y="655" font-size="19.4" text-anchor="middle">Phantom CT Image</text>
<text x="492.1" y="652.1" font-size="19.4" text-anchor="middle">Preprocessed Image</text>
<text x="839.5" y="648.9" font-size="19.4" text-anchor="middle">Volume Filtered Image</text>
<text x="1178.2" y="636.9" font-size="19.4" text-anchor="middle">Shape &amp; Location</text>
<text x="1178" y="659.9" font-size="19.4" text-anchor="middle">Filtered Image</text>
<text x="1554" y="652" font-size="19.4" text-anchor="middle">Ablation Zone Prediction</text>
<text x="165.6" y="484.8" font-size="19.4" text-anchor="middle">Original Image</text>
<text x="503.5" y="484.8" font-size="19.4" text-anchor="middle">Remove soft tissue safely</text>
<text x="705.5" y="472.3" font-size="19.4" text-anchor="start">Remove noise and large</text>
<text x="705.5" y="498.5" font-size="19.4" text-anchor="start">bone fragments</text>
<text x="1047.6" y="472.3" font-size="19.4" text-anchor="start">Filter for elongated objects</text>
<text x="1047.6" y="498.5" font-size="19.4" text-anchor="start">using shape ratio</text>
<text x="1418.5" y="471.9" font-size="19.4" text-anchor="start">Ablation Zone Approximation</text>
<text x="1418.5" y="498.6" font-size="19.4" text-anchor="start">using Ellipsoid Model</text>
</g>
<rect x="0" y="0" width="2" height="980" fill="#d0d0d0"/>
<rect x="0" y="526" width="8" height="1" fill="rgba(85,85,85,0.1)"/><rect x="8" y="526" width="8" height="1" fill="rgba(85,85,85,0.09)"/><rect x="16" y="526" width="16" height="1" fill="rgba(85,85,85,0.08)"/><rect x="32" y="526" width="8" height="1" fill="rgba(85,85,85,0.07)"/><rect x="40" y="526" width="16" height="1" fill="rgba(85,85,85,0.06)"/><rect x="56" y="526" width="16" height="1" fill="rgba(85,85,85,0.05)"/><rect x="72" y="526" width="8" height="1" fill="rgba(85,85,85,0.04)"/><rect x="80" y="526" width="16" height="1" fill="rgba(85,85,85,0.03)"/><rect x="96" y="526" width="8" height="1" fill="rgba(85,85,85,0.02)"/><rect x="104" y="526" width="8" height="1" fill="rgba(85,85,85,0.01)"/><rect x="0" y="527" width="128" height="1" fill="rgba(85,85,85,1)"/><rect x="128" y="527" width="16" height="1" fill="rgba(85,85,85,0.99)"/><rect x="144" y="527" width="8" height="1" fill="rgba(85,85,85,0.98)"/><rect x="152" y="527" width="16" height="1" fill="rgba(85,85,85,0.97)"/><rect x="168" y="527" width="16" height="1" fill="rgba(85,85,85,0.96)"/><rect x="184" y="527" width="8" height="1" fill="rgba(85,85,85,0.95)"/><rect x="192" y="527" width="16" height="1" fill="rgba(85,85,85,0.94)"/><rect x="208" y="527" width="8" height="1" fill="rgba(85,85,85,0.93)"/><rect x="216" y="527" width="16" height="1" fill="rgba(85,85,85,0.92)"/><rect x="232" y="527" width="8" height="1" fill="rgba(85,85,85,0.91)"/><rect x="240" y="527" width="16" height="1" fill="rgba(85,85,85,0.9)"/><rect x="256" y="527" width="8" height="1" fill="rgba(85,85,85,0.89)"/><rect x="264" y="527" width="16" height="1" fill="rgba(85,85,85,0.88)"/><rect x="280" y="527" width="16" height="1" fill="rgba(85,85,85,0.87)"/><rect x="296" y="527" width="8" height="1" fill="rgba(85,85,85,0.86)"/><rect x="304" y="527" width="16" height="1" fill="rgba(85,85,85,0.85)"/><rect x="320" y="527" width="8" height="1" fill="rgba(85,85,85,0.84)"/><rect x="328" y="527" width="16" height="1" fill="rgba(85,85,85,0.83)"/><rect x="344" y="527" width="8" height="1" fill="rgba(85,85,85,0.82)"/><rect x="352" y="527" width="16" height="1" fill="rgba(85,85,85,0.81)"/><rect x="368" y="527" width="8" height="1" fill="rgba(85,85,85,0.8)"/><rect x="376" y="527" width="16" height="1" fill="rgba(85,85,85,0.79)"/><rect x="392" y="527" width="8" height="1" fill="rgba(85,85,85,0.78)"/><rect x="400" y="527" width="16" height="1" fill="rgba(85,85,85,0.77)"/><rect x="416" y="527" width="16" height="1" fill="rgba(85,85,85,0.76)"/><rect x="432" y="527" width="8" height="1" fill="rgba(85,85,85,0.75)"/><rect x="440" y="527" width="16" height="1" fill="rgba(85,85,85,0.74)"/><rect x="456" y="527" width="8" height="1" fill="rgba(85,85,85,0.73)"/><rect x="464" y="527" width="16" height="1" fill="rgba(85,85,85,0.72)"/><rect x="480" y="527" width="8" height="1" fill="rgba(85,85,85,0.71)"/><rect x="488" y="527" width="16" height="1" fill="rgba(85,85,85,0.7)"/><rect x="504" y="527" width="8" height="1" fill="rgba(85,85,85,0.69)"/><rect x="512" y="527" width="16" height="1" fill="rgba(85,85,85,0.68)"/><rect x="528" y="527" width="16" height="1" fill="rgba(85,85,85,0.67)"/><rect x="544" y="527" width="8" height="1" fill="rgba(85,85,85,0.66)"/><rect x="552" y="527" width="16" height="1" fill="rgba(85,85,85,0.65)"/><rect x="568" y="527" width="8" height="1" fill="rgba(85,85,85,0.64)"/><rect x="576" y="527" width="16" height="1" fill="rgba(85,85,85,0.63)"/><rect x="592" y="527" width="8" height="1" fill="rgba(85,85,85,0.62)"/><rect x="600" y="527" width="16" height="1" fill="rgba(85,85,85,0.61)"/><rect x="616" y="527" width="8" height="1" fill="rgba(85,85,85,0.6)"/><rect x="624" y="527" width="16" height="1" fill="rgba(85,85,85,0.59)"/><rect x="640" y="527" width="16" height="1" fill="rgba(85,85,85,0.58)"/><rect x="656" y="527" width="8" height="1" fill="rgba(85,85,85,0.57)"/><rect x="664" y="527" width="16" height="1" fill="rgba(85,85,85,0.56)"/><rect x="680" y="527" width="8" height="1" fill="rgba(85,85,85,0.55)"/><rect x="688" y="527" width="16" height="1" fill="rgba(85,85,85,0.54)"/><rect x="704" y="527" width="8" height="1" fill="rgba(85,85,85,0.53)"/><rect x="712" y="527" width="16" height="1" fill="rgba(85,85,85,0.52)"/><rect x="728" y="527" width="8" height="1" fill="rgba(85,85,85,0.51)"/><rect x="736" y="527" width="16" height="1" fill="rgba(85,85,85,0.5)"/><rect x="752" y="527" width="16" height="1" fill="rgba(85,85,85,0.49)"/><rect x="768" y="527" width="8" height="1" fill="rgba(85,85,85,0.48)"/><rect x="776" y="527" width="16" height="1" fill="rgba(85,85,85,0.47)"/><rect x="792" y="527" width="8" height="1" fill="rgba(85,85,85,0.46)"/><rect x="800" y="527" width="16" height="1" fill="rgba(85,85,85,0.45)"/><rect x="816" y="527" width="8" height="1" fill="rgba(85,85,85,0.44)"/><rect x="824" y="527" width="16" height="1" fill="rgba(85,85,85,0.43)"/><rect x="840" y="527" width="8" height="1" fill="rgba(85,85,85,0.42)"/><rect x="848" y="527" width="16" height="1" fill="rgba(85,85,85,0.41)"/><rect x="864" y="527" width="16" height="1" fill="rgba(85,85,85,0.4)"/><rect x="880" y="527" width="8" height="1" fill="rgba(85,85,85,0.39)"/><rect x="888" y="527" width="16" height="1" fill="rgba(85,85,85,0.38)"/><rect x="904" y="527" width="8" height="1" fill="rgba(85,85,85,0.37)"/><rect x="912" y="527" width="16" height="1" fill="rgba(85,85,85,0.36)"/><rect x="928" y="527" width="8" height="1" fill="rgba(85,85,85,0.35)"/><rect x="936" y="527" width="16" height="1" fill="rgba(85,85,85,0.34)"/><rect x="952" y="527" width="8" height="1" fill="rgba(85,85,85,0.33)"/><rect x="960" y="527" width="16" height="1" fill="rgba(85,85,85,0.32)"/><rect x="976" y="527" width="16" height="1" fill="rgba(85,85,85,0.31)"/><rect x="992" y="527" width="8" height="1" fill="rgba(85,85,85,0.3)"/><rect x="1000" y="527" width="16" height="1" fill="rgba(85,85,85,0.29)"/><rect x="1016" y="527" width="8" height="1" fill="rgba(85,85,85,0.28)"/><rect x="1024" y="527" width="16" height="1" fill="rgba(85,85,85,0.27)"/><rect x="1040" y="527" width="8" height="1" fill="rgba(85,85,85,0.26)"/><rect x="1048" y="527" width="16" height="1" fill="rgba(85,85,85,0.25)"/><rect x="1064" y="527" width="8" height="1" fill="rgba(85,85,85,0.24)"/><rect x="1072" y="527" width="16" height="1" fill="rgba(85,85,85,0.23)"/><rect x="1088" y="527" width="8" height="1" fill="rgba(85,85,85,0.22)"/><rect x="1096" y="527" width="16" height="1" fill="rgba(85,85,85,0.21)"/><rect x="1112" y="527" width="16" height="1" fill="rgba(85,85,85,0.2)"/><rect x="1128" y="527" width="8" height="1" fill="rgba(85,85,85,0.19)"/><rect x="1136" y="527" width="16" height="1" fill="rgba(85,85,85,0.18)"/><rect x="1152" y="527" width="8" height="1" fill="rgba(85,85,85,0.17)"/><rect x="1160" y="527" width="16" height="1" fill="rgba(85,85,85,0.16)"/><rect x="1176" y="527" width="8" height="1" fill="rgba(85,85,85,0.15)"/><rect x="1184" y="527" width="16" height="1" fill="rgba(85,85,85,0.14)"/><rect x="1200" y="527" width="8" height="1" fill="rgba(85,85,85,0.13)"/><rect x="1208" y="527" width="16" height="1" fill="rgba(85,85,85,0.12)"/><rect x="1224" y="527" width="16" height="1" fill="rgba(85,85,85,0.11)"/><rect x="1240" y="527" width="8" height="1" fill="rgba(85,85,85,0.1)"/><rect x="1248" y="527" width="16" height="1" fill="rgba(85,85,85,0.09)"/><rect x="1264" y="527" width="8" height="1" fill="rgba(85,85,85,0.08)"/><rect x="1272" y="527" width="16" height="1" fill="rgba(85,85,85,0.07)"/><rect x="1288" y="527" width="8" height="1" fill="rgba(85,85,85,0.06)"/><rect x="1296" y="527" width="16" height="1" fill="rgba(85,85,85,0.05)"/><rect x="1312" y="527" width="8" height="1" fill="rgba(85,85,85,0.04)"/><rect x="1320" y="527" width="16" height="1" fill="rgba(85,85,85,0.03)"/><rect x="1336" y="527" width="16" height="1" fill="rgba(85,85,85,0.02)"/><rect x="0" y="528" width="8" height="1" fill="rgba(85,85,85,0.9)"/><rect x="8" y="528" width="8" height="1" fill="rgba(85,85,85,0.91)"/><rect x="16" y="528" width="16" height="1" fill="rgba(85,85,85,0.92)"/><rect x="32" y="528" width="8" height="1" fill="rgba(85,85,85,0.93)"/><rect x="40" y="528" width="16" height="1" fill="rgba(85,85,85,0.94)"/><rect x="56" y="528" width="16" height="1" fill="rgba(85,85,85,0.95)"/><rect x="72" y="528" width="8" height="1" fill="rgba(85,85,85,0.96)"/><rect x="80" y="528" width="16" height="1" fill="rgba(85,85,85,0.97)"/><rect x="96" y="528" width="8" height="1" fill="rgba(85,85,85,0.98)"/><rect x="104" y="528" width="16" height="1" fill="rgba(85,85,85,0.99)"/><rect x="120" y="528" width="1256" height="1" fill="rgba(85,85,85,1.0)"/><rect x="1376" y="528" width="8" height="1" fill="rgba(85,85,85,0.99)"/><rect x="1384" y="528" width="16" height="1" fill="rgba(85,85,85,0.98)"/><rect x="1400" y="528" width="8" height="1" fill="rgba(85,85,85,0.97)"/><rect x="1408" y="528" width="16" height="1" fill="rgba(85,85,85,0.96)"/><rect x="1424" y="528" width="8" height="1" fill="rgba(85,85,85,0.95)"/><rect x="1432" y="528" width="16" height="1" fill="rgba(85,85,85,0.94)"/><rect x="1448" y="528" width="16" height="1" fill="rgba(85,85,85,0.93)"/><rect x="1464" y="528" width="8" height="1" fill="rgba(85,85,85,0.92)"/><rect x="1472" y="528" width="16" height="1" fill="rgba(85,85,85,0.91)"/><rect x="1488" y="528" width="8" height="1" fill="rgba(85,85,85,0.9)"/><rect x="1496" y="528" width="16" height="1" fill="rgba(85,85,85,0.89)"/><rect x="1512" y="528" width="8" height="1" fill="rgba(85,85,85,0.88)"/><rect x="1520" y="528" width="16" height="1" fill="rgba(85,85,85,0.87)"/><rect x="1536" y="528" width="8" height="1" fill="rgba(85,85,85,0.86)"/><rect x="1544" y="528" width="16" height="1" fill="rgba(85,85,85,0.85)"/><rect x="1560" y="528" width="16" height="1" fill="rgba(85,85,85,0.84)"/><rect x="1576" y="528" width="8" height="1" fill="rgba(85,85,85,0.83)"/><rect x="1584" y="528" width="16" height="1" fill="rgba(85,85,85,0.82)"/><rect x="1600" y="528" width="8" height="1" fill="rgba(85,85,85,0.81)"/><rect x="1608" y="528" width="16" height="1" fill="rgba(85,85,85,0.8)"/><rect x="1624" y="528" width="8" height="1" fill="rgba(85,85,85,0.79)"/><rect x="1632" y="528" width="16" height="1" fill="rgba(85,85,85,0.78)"/><rect x="1648" y="528" width="8" height="1" fill="rgba(85,85,85,0.77)"/><rect x="1656" y="528" width="16" height="1" fill="rgba(85,85,85,0.76)"/><rect x="1672" y="528" width="16" height="1" fill="rgba(85,85,85,0.75)"/><rect x="1688" y="528" width="8" height="1" fill="rgba(85,85,85,0.74)"/><rect x="1696" y="528" width="16" height="1" fill="rgba(85,85,85,0.73)"/><rect x="1712" y="528" width="8" height="1" fill="rgba(85,85,85,0.72)"/><rect x="1720" y="528" width="16" height="1" fill="rgba(85,85,85,0.71)"/><rect x="1736" y="528" width="8" height="1" fill="rgba(85,85,85,0.7)"/><rect x="136" y="529" width="8" height="1" fill="rgba(85,85,85,0.01)"/><rect x="144" y="529" width="8" height="1" fill="rgba(85,85,85,0.02)"/><rect x="152" y="529" width="16" height="1" fill="rgba(85,85,85,0.03)"/><rect x="168" y="529" width="16" height="1" fill="rgba(85,85,85,0.04)"/><rect x="184" y="529" width="8" height="1" fill="rgba(85,85,85,0.05)"/><rect x="192" y="529" width="16" height="1" fill="rgba(85,85,85,0.06)"/><rect x="208" y="529" width="8" height="1" fill="rgba(85,85,85,0.07)"/><rect x="216" y="529" width="16" height="1" fill="rgba(85,85,85,0.08)"/><rect x="232" y="529" width="8" height="1" fill="rgba(85,85,85,0.09)"/><rect x="240" y="529" width="16" height="1" fill="rgba(85,85,85,0.1)"/><rect x="256" y="529" width="8" height="1" fill="rgba(85,85,85,0.11)"/><rect x="264" y="529" width="16" height="1" fill="rgba(85,85,85,0.12)"/><rect x="280" y="529" width="16" height="1" fill="rgba(85,85,85,0.13)"/><rect x="296" y="529" width="8" height="1" fill="rgba(85,85,85,0.14)"/><rect x="304" y="529" width="16" height="1" fill="rgba(85,85,85,0.15)"/><rect x="320" y="529" width="8" height="1" fill="rgba(85,85,85,0.16)"/><rect x="328" y="529" width="16" height="1" fill="rgba(85,85,85,0.17)"/><rect x="344" y="529" width="8" height="1" fill="rgba(85,85,85,0.18)"/><rect x="352" y="529" width="16" height="1" fill="rgba(85,85,85,0.19)"/><rect x="368" y="529" width="8" height="1" fill="rgba(85,85,85,0.2)"/><rect x="376" y="529" width="16" height="1" fill="rgba(85,85,85,0.21)"/><rect x="392" y="529" width="8" height="1" fill="rgba(85,85,85,0.22)"/><rect x="400" y="529" width="16" height="1" fill="rgba(85,85,85,0.23)"/><rect x="416" y="529" width="16" height="1" fill="rgba(85,85,85,0.24)"/><rect x="432" y="529" width="8" height="1" fill="rgba(85,85,85,0.25)"/><rect x="440" y="529" width="16" height="1" fill="rgba(85,85,85,0.26)"/><rect x="456" y="529" width="8" height="1" fill="rgba(85,85,85,0.27)"/><rect x="464" y="529" width="16" height="1" fill="rgba(85,85,85,0.28)"/><rect x="480" y="529" width="8" height="1" fill="rgba(85,85,85,0.29)"/><rect x="488" y="529" width="16" height="1" fill="rgba(85,85,85,0.3)"/><rect x="504" y="529" width="8" height="1" fill="rgba(85,85,85,0.31)"/><rect x="512" y="529" width="16" height="1" fill="rgba(85,85,85,0.32)"/><rect x="528" y="529" width="16" height="1" fill="rgba(85,85,85,0.33)"/><rect x="544" y="529" width="8" height="1" fill="rgba(85,85,85,0.34)"/><rect x="552" y="529" width="16" height="1" fill="rgba(85,85,85,0.35)"/><rect x="568" y="529" width="8" height="1" fill="rgba(85,85,85,0.36)"/><rect x="576" y="529" width="16" height="1" fill="rgba(85,85,85,0.37)"/><rect x="592" y="529" width="8" height="1" fill="rgba(85,85,85,0.38)"/><rect x="600" y="529" width="16" height="1" fill="rgba(85,85,85,0.39)"/><rect x="616" y="529" width="8" height="1" fill="rgba(85,85,85,0.4)"/><rect x="624" y="529" width="16" height="1" fill="rgba(85,85,85,0.41)"/><rect x="640" y="529" width="16" height="1" fill="rgba(85,85,85,0.42)"/><rect x="656" y="529" width="8" height="1" fill="rgba(85,85,85,0.43)"/><rect x="664" y="529" width="16" height="1" fill="rgba(85,85,85,0.44)"/><rect x="680" y="529" width="8" height="1" fill="rgba(85,85,85,0.45)"/><rect x="688" y="529" width="16" height="1" fill="rgba(85,85,85,0.46)"/><rect x="704" y="529" width="8" height="1" fill="rgba(85,85,85,0.47)"/><rect x="712" y="529" width="16" height="1" fill="rgba(85,85,85,0.48)"/><rect x="728" y="529" width="8" height="1" fill="rgba(85,85,85,0.49)"/><rect x="736" y="529" width="16" height="1" fill="rgba(85,85,85,0.5)"/><rect x="752" y="529" width="16" height="1" fill="rgba(85,85,85,0.51)"/><rect x="768" y="529" width="8" height="1" fill="rgba(85,85,85,0.52)"/><rect x="776" y="529" width="16" height="1" fill="rgba(85,85,85,0.53)"/><rect x="792" y="529" width="8" height="1" fill="rgba(85,85,85,0.54)"/><rect x="800" y="529" width="16" height="1" fill="rgba(85,85,85,0.55)"/><rect x="816" y="529" width="8" height="1" fill="rgba(85,85,85,0.56)"/><rect x="824" y="529" width="16" height="1" fill="rgba(85,85,85,0.57)"/><rect x="840" y="529" width="8" height="1" fill="rgba(85,85,85,0.58)"/><rect x="848" y="529" width="16" height="1" fill="rgba(85,85,85,0.59)"/><rect x="864" y="529" width="16" height="1" fill="rgba(85,85,85,0.6)"/><rect x="880" y="529" width="8" height="1" fill="rgba(85,85,85,0.61)"/><rect x="888" y="529" width="16" height="1" fill="rgba(85,85,85,0.62)"/><rect x="904" y="529" width="8" height="1" fill="rgba(85,85,85,0.63)"/><rect x="912" y="529" width="16" height="1" fill="rgba(85,85,85,0.64)"/><rect x="928" y="529" width="8" height="1" fill="rgba(85,85,85,0.65)"/><rect x="936" y="529" width="16" height="1" fill="rgba(85,85,85,0.66)"/><rect x="952" y="529" width="8" height="1" fill="rgba(85,85,85,0.67)"/><rect x="960" y="529" width="16" height="1" fill="rgba(85,85,85,0.68)"/><rect x="976" y="529" width="16" height="1" fill="rgba(85,85,85,0.69)"/><rect x="992" y="529" width="8" height="1" fill="rgba(85,85,85,0.7)"/><rect x="1000" y="529" width="16" height="1" fill="rgba(85,85,85,0.71)"/><rect x="1016" y="529" width="8" height="1" fill="rgba(85,85,85,0.72)"/><rect x="1024" y="529" width="16" height="1" fill="rgba(85,85,85,0.73)"/><rect x="1040" y="529" width="8" height="1" fill="rgba(85,85,85,0.74)"/><rect x="1048" y="529" width="16" height="1" fill="rgba(85,85,85,0.75)"/><rect x="1064" y="529" width="8" height="1" fill="rgba(85,85,85,0.76)"/><rect x="1072" y="529" width="16" height="1" fill="rgba(85,85,85,0.77)"/><rect x="1088" y="529" width="8" height="1" fill="rgba(85,85,85,0.78)"/><rect x="1096" y="529" width="16" height="1" fill="rgba(85,85,85,0.79)"/><rect x="1112" y="529" width="16" height="1" fill="rgba(85,85,85,0.8)"/><rect x="1128" y="529" width="8" height="1" fill="rgba(85,85,85,0.81)"/><rect x="1136" y="529" width="16" height="1" fill="rgba(85,85,85,0.82)"/><rect x="1152" y="529" width="8" height="1" fill="rgba(85,85,85,0.83)"/><rect x="1160" y="529" width="16" height="1" fill="rgba(85,85,85,0.84)"/><rect x="1176" y="529" width="8" height="1" fill="rgba(85,85,85,0.85)"/><rect x="1184" y="529" width="16" height="1" fill="rgba(85,85,85,0.86)"/><rect x="1200" y="529" width="8" height="1" fill="rgba(85,85,85,0.87)"/><rect x="1208" y="529" width="16" height="1" fill="rgba(85,85,85,0.88)"/><rect x="1224" y="529" width="16" height="1" fill="rgba(85,85,85,0.89)"/><rect x="1240" y="529" width="8" height="1" fill="rgba(85,85,85,0.9)"/><rect x="1248" y="529" width="16" height="1" fill="rgba(85,85,85,0.91)"/><rect x="1264" y="529" width="8" height="1" fill="rgba(85,85,85,0.92)"/><rect x="1272" y="529" width="16" height="1" fill="rgba(85,85,85,0.93)"/><rect x="1288" y="529" width="8" height="1" fill="rgba(85,85,85,0.94)"/><rect x="1296" y="529" width="16" height="1" fill="rgba(85,85,85,0.95)"/><rect x="1312" y="529" width="8" height="1" fill="rgba(85,85,85,0.96)"/><rect x="1320" y="529" width="16" height="1" fill="rgba(85,85,85,0.97)"/><rect x="1336" y="529" width="16" height="1" fill="rgba(85,85,85,0.98)"/><rect x="1352" y="529" width="8" height="1" fill="rgba(85,85,85,0.99)"/><rect x="1360" y="529" width="384" height="1" fill="rgba(85,85,85,1.0)"/><rect x="1376" y="530" width="8" height="1" fill="rgba(85,85,85,0.01)"/><rect x="1384" y="530" width="16" height="1" fill="rgba(85,85,85,0.02)"/><rect x="1400" y="530" width="8" height="1" fill="rgba(85,85,85,0.03)"/><rect x="1408" y="530" width="16" height="1" fill="rgba(85,85,85,0.04)"/><rect x="1424" y="530" width="8" height="1" fill="rgba(85,85,85,0.05)"/><rect x="1432" y="530" width="16" height="1" fill="rgba(85,85,85,0.06)"/><rect x="1448" y="530" width="16" height="1" fill="rgba(85,85,85,0.07)"/><rect x="1464" y="530" width="8" height="1" fill="rgba(85,85,85,0.08)"/><rect x="1472" y="530" width="16" height="1" fill="rgba(85,85,85,0.09)"/><rect x="1488" y="530" width="8" height="1" fill="rgba(85,85,85,0.1)"/><rect x="1496" y="530" width="16" height="1" fill="rgba(85,85,85,0.11)"/><rect x="1512" y="530" width="8" height="1" fill="rgba(85,85,85,0.12)"/><rect x="1520" y="530" width="16" height="1" fill="rgba(85,85,85,0.13)"/><rect x="1536" y="530" width="8" height="1" fill="rgba(85,85,85,0.14)"/><rect x="1544" y="530" width="16" height="1" fill="rgba(85,85,85,0.15)"/><rect x="1560" y="530" width="16" height="1" fill="rgba(85,85,85,0.16)"/><rect x="1576" y="530" width="8" height="1" fill="rgba(85,85,85,0.17)"/><rect x="1584" y="530" width="16" height="1" fill="rgba(85,85,85,0.18)"/><rect x="1600" y="530" width="8" height="1" fill="rgba(85,85,85,0.19)"/><rect x="1608" y="530" width="16" height="1" fill="rgba(85,85,85,0.2)"/><rect x="1624" y="530" width="8" height="1" fill="rgba(85,85,85,0.21)"/><rect x="1632" y="530" width="16" height="1" fill="rgba(85,85,85,0.22)"/><rect x="1648" y="530" width="8" height="1" fill="rgba(85,85,85,0.23)"/><rect x="1656" y="530" width="16" height="1" fill="rgba(85,85,85,0.24)"/><rect x="1672" y="530" width="16" height="1" fill="rgba(85,85,85,0.25)"/><rect x="1688" y="530" width="8" height="1" fill="rgba(85,85,85,0.26)"/><rect x="1696" y="530" width="16" height="1" fill="rgba(85,85,85,0.27)"/><rect x="1712" y="530" width="8" height="1" fill="rgba(85,85,85,0.28)"/><rect x="1720" y="530" width="16" height="1" fill="rgba(85,85,85,0.29)"/><rect x="1736" y="530" width="8" height="1" fill="rgba(85,85,85,0.3)"/>
<rect x="669" y="0" width="1" height="616" fill="rgba(85,85,85,1)"/><rect x="669" y="616" width="1" height="8" fill="rgba(85,85,85,0.99)"/><rect x="669" y="624" width="1" height="8" fill="rgba(85,85,85,0.97)"/><rect x="669" y="632" width="1" height="8" fill="rgba(85,85,85,0.96)"/><rect x="669" y="640" width="1" height="8" fill="rgba(85,85,85,0.95)"/><rect x="669" y="648" width="1" height="8" fill="rgba(85,85,85,0.94)"/><rect x="669" y="656" width="1" height="8" fill="rgba(85,85,85,0.92)"/><rect x="669" y="664" width="1" height="8" fill="rgba(85,85,85,0.91)"/><rect x="669" y="672" width="1" height="8" fill="rgba(85,85,85,0.9)"/><rect x="669" y="680" width="1" height="8" fill="rgba(85,85,85,0.88)"/><rect x="669" y="688" width="1" height="8" fill="rgba(85,85,85,0.87)"/><rect x="669" y="696" width="1" height="8" fill="rgba(85,85,85,0.86)"/><rect x="669" y="704" width="1" height="8" fill="rgba(85,85,85,0.84)"/><rect x="669" y="712" width="1" height="8" fill="rgba(85,85,85,0.83)"/><rect x="669" y="720" width="1" height="8" fill="rgba(85,85,85,0.82)"/><rect x="669" y="728" width="1" height="8" fill="rgba(85,85,85,0.8)"/><rect x="669" y="736" width="1" height="8" fill="rgba(85,85,85,0.79)"/><rect x="669" y="744" width="1" height="8" fill="rgba(85,85,85,0.78)"/><rect x="669" y="752" width="1" height="8" fill="rgba(85,85,85,0.77)"/><rect x="669" y="760" width="1" height="8" fill="rgba(85,85,85,0.75)"/><rect x="669" y="768" width="1" height="8" fill="rgba(85,85,85,0.74)"/><rect x="669" y="776" width="1" height="8" fill="rgba(85,85,85,0.73)"/><rect x="669" y="784" width="1" height="8" fill="rgba(85,85,85,0.71)"/><rect x="669" y="792" width="1" height="8" fill="rgba(85,85,85,0.7)"/><rect x="669" y="800" width="1" height="8" fill="rgba(85,85,85,0.69)"/><rect x="669" y="808" width="1" height="8" fill="rgba(85,85,85,0.67)"/><rect x="669" y="816" width="1" height="8" fill="rgba(85,85,85,0.66)"/><rect x="669" y="824" width="1" height="8" fill="rgba(85,85,85,0.65)"/><rect x="669" y="832" width="1" height="8" fill="rgba(85,85,85,0.64)"/><rect x="669" y="840" width="1" height="8" fill="rgba(85,85,85,0.62)"/><rect x="669" y="848" width="1" height="8" fill="rgba(85,85,85,0.61)"/><rect x="669" y="856" width="1" height="8" fill="rgba(85,85,85,0.6)"/><rect x="669" y="864" width="1" height="8" fill="rgba(85,85,85,0.58)"/><rect x="669" y="872" width="1" height="8" fill="rgba(85,85,85,0.57)"/><rect x="669" y="880" width="1" height="8" fill="rgba(85,85,85,0.56)"/><rect x="669" y="888" width="1" height="8" fill="rgba(85,85,85,0.54)"/><rect x="669" y="896" width="1" height="8" fill="rgba(85,85,85,0.53)"/><rect x="669" y="904" width="1" height="8" fill="rgba(85,85,85,0.52)"/><rect x="669" y="912" width="1" height="8" fill="rgba(85,85,85,0.5)"/><rect x="669" y="920" width="1" height="8" fill="rgba(85,85,85,0.49)"/><rect x="669" y="928" width="1" height="8" fill="rgba(85,85,85,0.48)"/><rect x="669" y="936" width="1" height="8" fill="rgba(85,85,85,0.47)"/><rect x="669" y="944" width="1" height="8" fill="rgba(85,85,85,0.45)"/><rect x="669" y="952" width="1" height="8" fill="rgba(85,85,85,0.44)"/><rect x="669" y="960" width="1" height="8" fill="rgba(85,85,85,0.43)"/><rect x="669" y="968" width="1" height="8" fill="rgba(85,85,85,0.41)"/><rect x="669" y="976" width="1" height="8" fill="rgba(85,85,85,0.4)"/><rect x="670" y="0" width="1" height="8" fill="rgba(85,85,85,0.99)"/><rect x="670" y="8" width="1" height="8" fill="rgba(85,85,85,0.98)"/><rect x="670" y="16" width="1" height="8" fill="rgba(85,85,85,0.97)"/><rect x="670" y="24" width="1" height="8" fill="rgba(85,85,85,0.95)"/><rect x="670" y="32" width="1" height="8" fill="rgba(85,85,85,0.94)"/><rect x="670" y="40" width="1" height="8" fill="rgba(85,85,85,0.93)"/><rect x="670" y="48" width="1" height="8" fill="rgba(85,85,85,0.92)"/><rect x="670" y="56" width="1" height="8" fill="rgba(85,85,85,0.9)"/><rect x="670" y="64" width="1" height="8" fill="rgba(85,85,85,0.89)"/><rect x="670" y="72" width="1" height="8" fill="rgba(85,85,85,0.88)"/><rect x="670" y="80" width="1" height="8" fill="rgba(85,85,85,0.86)"/><rect x="670" y="88" width="1" height="8" fill="rgba(85,85,85,0.85)"/><rect x="670" y="96" width="1" height="8" fill="rgba(85,85,85,0.84)"/><rect x="670" y="104" width="1" height="8" fill="rgba(85,85,85,0.82)"/><rect x="670" y="112" width="1" height="8" fill="rgba(85,85,85,0.81)"/><rect x="670" y="120" width="1" height="8" fill="rgba(85,85,85,0.8)"/><rect x="670" y="128" width="1" height="8" fill="rgba(85,85,85,0.78)"/><rect x="670" y="136" width="1" height="8" fill="rgba(85,85,85,0.77)"/><rect x="670" y="144" width="1" height="8" fill="rgba(85,85,85,0.76)"/><rect x="670" y="152" width="1" height="8" fill="rgba(85,85,85,0.75)"/><rect x="670" y="160" width="1" height="8" fill="rgba(85,85,85,0.73)"/><rect x="670" y="168" width="1" height="8" fill="rgba(85,85,85,0.72)"/><rect x="670" y="176" width="1" height="8" fill="rgba(85,85,85,0.71)"/><rect x="670" y="184" width="1" height="8" fill="rgba(85,85,85,0.69)"/><rect x="670" y="192" width="1" height="8" fill="rgba(85,85,85,0.68)"/><rect x="670" y="200" width="1" height="8" fill="rgba(85,85,85,0.67)"/><rect x="670" y="208" width="1" height="8" fill="rgba(85,85,85,0.65)"/><rect x="670" y="216" width="1" height="8" fill="rgba(85,85,85,0.64)"/><rect x="670" y="224" width="1" height="8" fill="rgba(85,85,85,0.63)"/><rect x="670" y="232" width="1" height="8" fill="rgba(85,85,85,0.61)"/><rect x="670" y="240" width="1" height="8" fill="rgba(85,85,85,0.6)"/><rect x="670" y="248" width="1" height="8" fill="rgba(85,85,85,0.59)"/><rect x="670" y="256" width="1" height="8" fill="rgba(85,85,85,0.58)"/><rect x="670" y="264" width="1" height="8" fill="rgba(85,85,85,0.56)"/><rect x="670" y="272" width="1" height="8" fill="rgba(85,85,85,0.55)"/><rect x="670" y="280" width="1" height="8" fill="rgba(85,85,85,0.54)"/><rect x="670" y="288" width="1" height="8" fill="rgba(85,85,85,0.52)"/><rect x="670" y="296" width="1" height="8" fill="rgba(85,85,85,0.51)"/><rect x="670" y="304" width="1" height="8" fill="rgba(85,85,85,0.5)"/><rect x="670" y="312" width="1" height="8" fill="rgba(85,85,85,0.48)"/><rect x="670" y="320" width="1" height="8" fill="rgba(85,85,85,0.47)"/><rect x="670" y="328" width="1" height="8" fill="rgba(85,85,85,0.46)"/><rect x="670" y="336" width="1" height="8" fill="rgba(85,85,85,0.44)"/><rect x="670" y="344" width="1" height="8" fill="rgba(85,85,85,0.43)"/><rect x="670" y="352" width="1" height="8" fill="rgba(85,85,85,0.42)"/><rect x="670" y="360" width="1" height="8" fill="rgba(85,85,85,0.41)"/><rect x="670" y="368" width="1" height="8" fill="rgba(85,85,85,0.39)"/><rect x="670" y="376" width="1" height="8" fill="rgba(85,85,85,0.38)"/><rect x="670" y="384" width="1" height="8" fill="rgba(85,85,85,0.37)"/><rect x="670" y="392" width="1" height="8" fill="rgba(85,85,85,0.35)"/><rect x="670" y="400" width="1" height="8" fill="rgba(85,85,85,0.34)"/><rect x="670" y="408" width="1" height="8" fill="rgba(85,85,85,0.33)"/><rect x="670" y="416" width="1" height="8" fill="rgba(85,85,85,0.31)"/><rect x="670" y="424" width="1" height="8" fill="rgba(85,85,85,0.3)"/><rect x="670" y="432" width="1" height="8" fill="rgba(85,85,85,0.29)"/><rect x="670" y="440" width="1" height="8" fill="rgba(85,85,85,0.28)"/><rect x="670" y="448" width="1" height="8" fill="rgba(85,85,85,0.26)"/><rect x="670" y="456" width="1" height="8" fill="rgba(85,85,85,0.25)"/><rect x="670" y="464" width="1" height="8" fill="rgba(85,85,85,0.24)"/><rect x="670" y="472" width="1" height="8" fill="rgba(85,85,85,0.22)"/><rect x="670" y="480" width="1" height="8" fill="rgba(85,85,85,0.21)"/><rect x="670" y="488" width="1" height="8" fill="rgba(85,85,85,0.2)"/><rect x="670" y="496" width="1" height="8" fill="rgba(85,85,85,0.18)"/><rect x="670" y="504" width="1" height="8" fill="rgba(85,85,85,0.17)"/><rect x="670" y="512" width="1" height="8" fill="rgba(85,85,85,0.16)"/><rect x="670" y="520" width="1" height="8" fill="rgba(85,85,85,0.14)"/><rect x="670" y="528" width="1" height="8" fill="rgba(85,85,85,0.13)"/><rect x="670" y="536" width="1" height="8" fill="rgba(85,85,85,0.12)"/><rect x="670" y="544" width="1" height="8" fill="rgba(85,85,85,0.11)"/><rect x="670" y="552" width="1" height="8" fill="rgba(85,85,85,0.09)"/><rect x="670" y="560" width="1" height="8" fill="rgba(85,85,85,0.08)"/><rect x="670" y="568" width="1" height="8" fill="rgba(85,85,85,0.07)"/><rect x="670" y="576" width="1" height="8" fill="rgba(85,85,85,0.05)"/><rect x="670" y="584" width="1" height="8" fill="rgba(85,85,85,0.04)"/><rect x="670" y="592" width="1" height="8" fill="rgba(85,85,85,0.03)"/><rect x="670" y="600" width="1" height="8" fill="rgba(85,85,85,0.01)"/><rect x="668" y="8" width="1" height="8" fill="rgba(85,85,85,0.02)"/><rect x="668" y="16" width="1" height="8" fill="rgba(85,85,85,0.03)"/><rect x="668" y="24" width="1" height="8" fill="rgba(85,85,85,0.05)"/><rect x="668" y="32" width="1" height="8" fill="rgba(85,85,85,0.06)"/><rect x="668" y="40" width="1" height="8" fill="rgba(85,85,85,0.07)"/><rect x="668" y="48" width="1" height="8" fill="rgba(85,85,85,0.08)"/><rect x="668" y="56" width="1" height="8" fill="rgba(85,85,85,0.1)"/><rect x="668" y="64" width="1" height="8" fill="rgba(85,85,85,0.11)"/><rect x="668" y="72" width="1" height="8" fill="rgba(85,85,85,0.12)"/><rect x="668" y="80" width="1" height="8" fill="rgba(85,85,85,0.14)"/><rect x="668" y="88" width="1" height="8" fill="rgba(85,85,85,0.15)"/><rect x="668" y="96" width="1" height="8" fill="rgba(85,85,85,0.16)"/><rect x="668" y="104" width="1" height="8" fill="rgba(85,85,85,0.18)"/><rect x="668" y="112" width="1" height="8" fill="rgba(85,85,85,0.19)"/><rect x="668" y="120" width="1" height="8" fill="rgba(85,85,85,0.2)"/><rect x="668" y="128" width="1" height="8" fill="rgba(85,85,85,0.22)"/><rect x="668" y="136" width="1" height="8" fill="rgba(85,85,85,0.23)"/><rect x="668" y="144" width="1" height="8" fill="rgba(85,85,85,0.24)"/><rect x="668" y="152" width="1" height="8" fill="rgba(85,85,85,0.25)"/><rect x="668" y="160" width="1" height="8" fill="rgba(85,85,85,0.27)"/><rect x="668" y="168" width="1" height="8" fill="rgba(85,85,85,0.28)"/><rect x="668" y="176" width="1" height="8" fill="rgba(85,85,85,0.29)"/><rect x="668" y="184" width="1" height="8" fill="rgba(85,85,85,0.31)"/><rect x="668" y="192" width="1" height="8" fill="rgba(85,85,85,0.32)"/><rect x="668" y="200" width="1" height="8" fill="rgba(85,85,85,0.33)"/><rect x="668" y="208" width="1" height="8" fill="rgba(85,85,85,0.35)"/><rect x="668" y="216" width="1" height="8" fill="rgba(85,85,85,0.36)"/><rect x="668" y="224" width="1" height="8" fill="rgba(85,85,85,0.37)"/><rect x="668" y="232" width="1" height="8" fill="rgba(85,85,85,0.39)"/><rect x="668" y="240" width="1" height="8" fill="rgba(85,85,85,0.4)"/><rect x="668" y="248" width="1" height="8" fill="rgba(85,85,85,0.41)"/><rect x="668" y="256" width="1" height="8" fill="rgba(85,85,85,0.42)"/><rect x="668" y="264" width="1" height="8" fill="rgba(85,85,85,0.44)"/><rect x="668" y="272" width="1" height="8" fill="rgba(85,85,85,0.45)"/><rect x="668" y="280" width="1" height="8" fill="rgba(85,85,85,0.46)"/><rect x="668" y="288" width="1" height="8" fill="rgba(85,85,85,0.48)"/><rect x="668" y="296" width="1" height="8" fill="rgba(85,85,85,0.49)"/><rect x="668" y="304" width="1" height="8" fill="rgba(85,85,85,0.5)"/><rect x="668" y="312" width="1" height="8" fill="rgba(85,85,85,0.52)"/><rect x="668" y="320" width="1" height="8" fill="rgba(85,85,85,0.53)"/><rect x="668" y="328" width="1" height="8" fill="rgba(85,85,85,0.54)"/><rect x="668" y="336" width="1" height="8" fill="rgba(85,85,85,0.56)"/><rect x="668" y="344" width="1" height="8" fill="rgba(85,85,85,0.57)"/><rect x="668" y="352" width="1" height="8" fill="rgba(85,85,85,0.58)"/><rect x="668" y="360" width="1" height="8" fill="rgba(85,85,85,0.59)"/><rect x="668" y="368" width="1" height="8" fill="rgba(85,85,85,0.61)"/><rect x="668" y="376" width="1" height="8" fill="rgba(85,85,85,0.62)"/><rect x="668" y="384" width="1" height="8" fill="rgba(85,85,85,0.63)"/><rect x="668" y="392" width="1" height="8" fill="rgba(85,85,85,0.65)"/><rect x="668" y="400" width="1" height="8" fill="rgba(85,85,85,0.66)"/><rect x="668" y="408" width="1" height="8" fill="rgba(85,85,85,0.67)"/><rect x="668" y="416" width="1" height="8" fill="rgba(85,85,85,0.69)"/><rect x="668" y="424" width="1" height="8" fill="rgba(85,85,85,0.7)"/><rect x="668" y="432" width="1" height="8" fill="rgba(85,85,85,0.71)"/><rect x="668" y="440" width="1" height="8" fill="rgba(85,85,85,0.72)"/><rect x="668" y="448" width="1" height="8" fill="rgba(85,85,85,0.74)"/><rect x="668" y="456" width="1" height="8" fill="rgba(85,85,85,0.75)"/><rect x="668" y="464" width="1" height="8" fill="rgba(85,85,85,0.76)"/><rect x="668" y="472" width="1" height="8" fill="rgba(85,85,85,0.78)"/><rect x="668" y="480" width="1" height="8" fill="rgba(85,85,85,0.79)"/><rect x="668" y="488" width="1" height="8" fill="rgba(85,85,85,0.8)"/><rect x="668" y="496" width="1" height="8" fill="rgba(85,85,85,0.82)"/><rect x="668" y="504" width="1" height="8" fill="rgba(85,85,85,0.83)"/><rect x="668" y="512" width="1" height="8" fill="rgba(85,85,85,0.84)"/><rect x="668" y="520" width="1" height="8" fill="rgba(85,85,85,0.86)"/><rect x="668" y="528" width="1" height="8" fill="rgba(85,85,85,0.87)"/><rect x="668" y="536" width="1" height="8" fill="rgba(85,85,85,0.88)"/><rect x="668" y="544" width="1" height="8" fill="rgba(85,85,85,0.89)"/><rect x="668" y="552" width="1" height="8" fill="rgba(85,85,85,0.91)"/><rect x="668" y="560" width="1" height="8" fill="rgba(85,85,85,0.92)"/><rect x="668" y="568" width="1" height="8" fill="rgba(85,85,85,0.93)"/><rect x="668" y="576" width="1" height="8" fill="rgba(85,85,85,0.95)"/><rect x="668" y="584" width="1" height="8" fill="rgba(85,85,85,0.96)"/><rect x="668" y="592" width="1" height="8" fill="rgba(85,85,85,0.97)"/><rect x="668" y="600" width="1" height="8" fill="rgba(85,85,85,0.99)"/><rect x="668" y="608" width="1" height="376" fill="rgba(85,85,85,1.0)"/><rect x="667" y="616" width="1" height="8" fill="rgba(85,85,85,0.01)"/><rect x="667" y="624" width="1" height="8" fill="rgba(85,85,85,0.03)"/><rect x="667" y="632" width="1" height="8" fill="rgba(85,85,85,0.04)"/><rect x="667" y="640" width="1" height="8" fill="rgba(85,85,85,0.05)"/><rect x="667" y="648" width="1" height="8" fill="rgba(85,85,85,0.06)"/><rect x="667" y="656" width="1" height="8" fill="rgba(85,85,85,0.08)"/><rect x="667" y="664" width="1" height="8" fill="rgba(85,85,85,0.09)"/><rect x="667" y="672" width="1" height="8" fill="rgba(85,85,85,0.1)"/><rect x="667" y="680" width="1" height="8" fill="rgba(85,85,85,0.12)"/><rect x="667" y="688" width="1" height="8" fill="rgba(85,85,85,0.13)"/><rect x="667" y="696" width="1" height="8" fill="rgba(85,85,85,0.14)"/><rect x="667" y="704" width="1" height="8" fill="rgba(85,85,85,0.16)"/><rect x="667" y="712" width="1" height="8" fill="rgba(85,85,85,0.17)"/><rect x="667" y="720" width="1" height="8" fill="rgba(85,85,85,0.18)"/><rect x="667" y="728" width="1" height="8" fill="rgba(85,85,85,0.2)"/><rect x="667" y="736" width="1" height="8" fill="rgba(85,85,85,0.21)"/><rect x="667" y="744" width="1" height="8" fill="rgba(85,85,85,0.22)"/><rect x="667" y="752" width="1" height="8" fill="rgba(85,85,85,0.23)"/><rect x="667" y="760" width="1" height="8" fill="rgba(85,85,85,0.25)"/><rect x="667" y="768" width="1" height="8" fill="rgba(85,85,85,0.26)"/><rect x="667" y="776" width="1" height="8" fill="rgba(85,85,85,0.27)"/><rect x="667" y="784" width="1" height="8" fill="rgba(85,85,85,0.29)"/><rect x="667" y="792" width="1" height="8" fill="rgba(85,85,85,0.3)"/><rect x="667" y="800" width="1" height="8" fill="rgba(85,85,85,0.31)"/><rect x="667" y="808" width="1" height="8" fill="rgba(85,85,85,0.33)"/><rect x="667" y="816" width="1" height="8" fill="rgba(85,85,85,0.34)"/><rect x="667" y="824" width="1" height="8" fill="rgba(85,85,85,0.35)"/><rect x="667" y="832" width="1" height="8" fill="rgba(85,85,85,0.36)"/><rect x="667" y="840" width="1" height="8" fill="rgba(85,85,85,0.38)"/><rect x="667" y="848" width="1" height="8" fill="rgba(85,85,85,0.39)"/><rect x="667" y="856" width="1" height="8" fill="rgba(85,85,85,0.4)"/><rect x="667" y="864" width="1" height="8" fill="rgba(85,85,85,0.42)"/><rect x="667" y="872" width="1" height="8" fill="rgba(85,85,85,0.43)"/><rect x="667" y="880" width="1" height="8" fill="rgba(85,85,85,0.44)"/><rect x="667" y="888" width="1" height="8" fill="rgba(85,85,85,0.46)"/><rect x="667" y="896" width="1" height="8" fill="rgba(85,85,85,0.47)"/><rect x="667" y="904" width="1" height="8" fill="rgba(85,85,85,0.48)"/><rect x="667" y="912" width="1" height="8" fill="rgba(85,85,85,0.5)"/><rect x="667" y="920" width="1" height="8" fill="rgba(85,85,85,0.51)"/><rect x="667" y="928" width="1" height="8" fill="rgba(85,85,85,0.52)"/><rect x="667" y="936" width="1" height="8" fill="rgba(85,85,85,0.53)"/><rect x="667" y="944" width="1" height="8" fill="rgba(85,85,85,0.55)"/><rect x="667" y="952" width="1" height="8" fill="rgba(85,85,85,0.56)"/><rect x="667" y="960" width="1" height="8" fill="rgba(85,85,85,0.57)"/><rect x="667" y="968" width="1" height="8" fill="rgba(85,85,85,0.59)"/><rect x="667" y="976" width="1" height="8" fill="rgba(85,85,85,0.6)"/>
<rect x="1353" y="0" width="1" height="8" fill="rgba(85,85,85,0.71)"/><rect x="1353" y="8" width="1" height="8" fill="rgba(85,85,85,0.72)"/><rect x="1353" y="16" width="1" height="8" fill="rgba(85,85,85,0.73)"/><rect x="1353" y="24" width="1" height="8" fill="rgba(85,85,85,0.74)"/><rect x="1353" y="32" width="1" height="8" fill="rgba(85,85,85,0.75)"/><rect x="1353" y="40" width="1" height="8" fill="rgba(85,85,85,0.76)"/><rect x="1353" y="48" width="1" height="8" fill="rgba(85,85,85,0.77)"/><rect x="1353" y="56" width="1" height="8" fill="rgba(85,85,85,0.79)"/><rect x="1353" y="64" width="1" height="8" fill="rgba(85,85,85,0.8)"/><rect x="1353" y="72" width="1" height="8" fill="rgba(85,85,85,0.81)"/><rect x="1353" y="80" width="1" height="8" fill="rgba(85,85,85,0.82)"/><rect x="1353" y="88" width="1" height="8" fill="rgba(85,85,85,0.83)"/><rect x="1353" y="96" width="1" height="8" fill="rgba(85,85,85,0.84)"/><rect x="1353" y="104" width="1" height="8" fill="rgba(85,85,85,0.85)"/><rect x="1353" y="112" width="1" height="8" fill="rgba(85,85,85,0.87)"/><rect x="1353" y="120" width="1" height="8" fill="rgba(85,85,85,0.88)"/><rect x="1353" y="128" width="1" height="8" fill="rgba(85,85,85,0.89)"/><rect x="1353" y="136" width="1" height="8" fill="rgba(85,85,85,0.9)"/><rect x="1353" y="144" width="1" height="8" fill="rgba(85,85,85,0.91)"/><rect x="1353" y="152" width="1" height="8" fill="rgba(85,85,85,0.92)"/><rect x="1353" y="160" width="1" height="8" fill="rgba(85,85,85,0.93)"/><rect x="1353" y="168" width="1" height="8" fill="rgba(85,85,85,0.95)"/><rect x="1353" y="176" width="1" height="8" fill="rgba(85,85,85,0.96)"/><rect x="1353" y="184" width="1" height="8" fill="rgba(85,85,85,0.97)"/><rect x="1353" y="192" width="1" height="8" fill="rgba(85,85,85,0.98)"/><rect x="1353" y="200" width="1" height="8" fill="rgba(85,85,85,0.99)"/><rect x="1353" y="208" width="1" height="704" fill="rgba(85,85,85,1)"/><rect x="1353" y="912" width="1" height="8" fill="rgba(85,85,85,0.99)"/><rect x="1353" y="920" width="1" height="8" fill="rgba(85,85,85,0.98)"/><rect x="1353" y="928" width="1" height="8" fill="rgba(85,85,85,0.97)"/><rect x="1353" y="936" width="1" height="8" fill="rgba(85,85,85,0.96)"/><rect x="1353" y="944" width="1" height="8" fill="rgba(85,85,85,0.95)"/><rect x="1353" y="952" width="1" height="8" fill="rgba(85,85,85,0.93)"/><rect x="1353" y="960" width="1" height="8" fill="rgba(85,85,85,0.92)"/><rect x="1353" y="968" width="1" height="8" fill="rgba(85,85,85,0.91)"/><rect x="1353" y="976" width="1" height="8" fill="rgba(85,85,85,0.9)"/><rect x="1354" y="0" width="1" height="216" fill="rgba(85,85,85,1)"/><rect x="1354" y="216" width="1" height="8" fill="rgba(85,85,85,0.99)"/><rect x="1354" y="224" width="1" height="8" fill="rgba(85,85,85,0.97)"/><rect x="1354" y="232" width="1" height="8" fill="rgba(85,85,85,0.96)"/><rect x="1354" y="240" width="1" height="8" fill="rgba(85,85,85,0.95)"/><rect x="1354" y="248" width="1" height="8" fill="rgba(85,85,85,0.94)"/><rect x="1354" y="256" width="1" height="8" fill="rgba(85,85,85,0.93)"/><rect x="1354" y="264" width="1" height="8" fill="rgba(85,85,85,0.92)"/><rect x="1354" y="272" width="1" height="8" fill="rgba(85,85,85,0.91)"/><rect x="1354" y="280" width="1" height="8" fill="rgba(85,85,85,0.89)"/><rect x="1354" y="288" width="1" height="8" fill="rgba(85,85,85,0.88)"/><rect x="1354" y="296" width="1" height="8" fill="rgba(85,85,85,0.87)"/><rect x="1354" y="304" width="1" height="8" fill="rgba(85,85,85,0.86)"/><rect x="1354" y="312" width="1" height="8" fill="rgba(85,85,85,0.85)"/><rect x="1354" y="320" width="1" height="8" fill="rgba(85,85,85,0.84)"/><rect x="1354" y="328" width="1" height="8" fill="rgba(85,85,85,0.83)"/><rect x="1354" y="336" width="1" height="8" fill="rgba(85,85,85,0.81)"/><rect x="1354" y="344" width="1" height="8" fill="rgba(85,85,85,0.8)"/><rect x="1354" y="352" width="1" height="8" fill="rgba(85,85,85,0.79)"/><rect x="1354" y="360" width="1" height="8" fill="rgba(85,85,85,0.78)"/><rect x="1354" y="368" width="1" height="8" fill="rgba(85,85,85,0.77)"/><rect x="1354" y="376" width="1" height="8" fill="rgba(85,85,85,0.76)"/><rect x="1354" y="384" width="1" height="8" fill="rgba(85,85,85,0.75)"/><rect x="1354" y="392" width="1" height="8" fill="rgba(85,85,85,0.73)"/><rect x="1354" y="400" width="1" height="8" fill="rgba(85,85,85,0.72)"/><rect x="1354" y="408" width="1" height="8" fill="rgba(85,85,85,0.71)"/><rect x="1354" y="416" width="1" height="8" fill="rgba(85,85,85,0.7)"/><rect x="1354" y="424" width="1" height="8" fill="rgba(85,85,85,0.69)"/><rect x="1354" y="432" width="1" height="8" fill="rgba(85,85,85,0.68)"/><rect x="1354" y="440" width="1" height="8" fill="rgba(85,85,85,0.67)"/><rect x="1354" y="448" width="1" height="8" fill="rgba(85,85,85,0.65)"/><rect x="1354" y="456" width="1" height="8" fill="rgba(85,85,85,0.64)"/><rect x="1354" y="464" width="1" height="8" fill="rgba(85,85,85,0.63)"/><rect x="1354" y="472" width="1" height="8" fill="rgba(85,85,85,0.62)"/><rect x="1354" y="480" width="1" height="8" fill="rgba(85,85,85,0.61)"/><rect x="1354" y="488" width="1" height="8" fill="rgba(85,85,85,0.6)"/><rect x="1354" y="496" width="1" height="8" fill="rgba(85,85,85,0.59)"/><rect x="1354" y="504" width="1" height="8" fill="rgba(85,85,85,0.57)"/><rect x="1354" y="512" width="1" height="8" fill="rgba(85,85,85,0.56)"/><rect x="1354" y="520" width="1" height="8" fill="rgba(85,85,85,0.55)"/><rect x="1354" y="528" width="1" height="8" fill="rgba(85,85,85,0.54)"/><rect x="1354" y="536" width="1" height="8" fill="rgba(85,85,85,0.53)"/><rect x="1354" y="544" width="1" height="8" fill="rgba(85,85,85,0.52)"/><rect x="1354" y="552" width="1" height="8" fill="rgba(85,85,85,0.51)"/><rect x="1354" y="560" width="1" height="8" fill="rgba(85,85,85,0.49)"/><rect x="1354" y="568" width="1" height="8" fill="rgba(85,85,85,0.48)"/><rect x="1354" y="576" width="1" height="8" fill="rgba(85,85,85,0.47)"/><rect x="1354" y="584" width="1" height="8" fill="rgba(85,85,85,0.46)"/><rect x="1354" y="592" width="1" height="8" fill="rgba(85,85,85,0.45)"/><rect x="1354" y="600" width="1" height="8" fill="rgba(85,85,85,0.44)"/><rect x="1354" y="608" width="1" height="8" fill="rgba(85,85,85,0.43)"/><rect x="1354" y="616" width="1" height="8" fill="rgba(85,85,85,0.41)"/><rect x="1354" y="624" width="1" height="8" fill="rgba(85,85,85,0.4)"/><rect x="1354" y="632" width="1" height="8" fill="rgba(85,85,85,0.39)"/><rect x="1354" y="640" width="1" height="8" fill="rgba(85,85,85,0.38)"/><rect x="1354" y="648" width="1" height="8" fill="rgba(85,85,85,0.37)"/><rect x="1354" y="656" width="1" height="8" fill="rgba(85,85,85,0.36)"/><rect x="1354" y="664" width="1" height="8" fill="rgba(85,85,85,0.35)"/><rect x="1354" y="672" width="1" height="8" fill="rgba(85,85,85,0.33)"/><rect x="1354" y="680" width="1" height="8" fill="rgba(85,85,85,0.32)"/><rect x="1354" y="688" width="1" height="8" fill="rgba(85,85,85,0.31)"/><rect x="1354" y="696" width="1" height="8" fill="rgba(85,85,85,0.3)"/><rect x="1354" y="704" width="1" height="8" fill="rgba(85,85,85,0.29)"/><rect x="1354" y="712" width="1" height="8" fill="rgba(85,85,85,0.28)"/><rect x="1354" y="720" width="1" height="8" fill="rgba(85,85,85,0.27)"/><rect x="1354" y="728" width="1" height="8" fill="rgba(85,85,85,0.25)"/><rect x="1354" y="736" width="1" height="8" fill="rgba(85,85,85,0.24)"/><rect x="1354" y="744" width="1" height="8" fill="rgba(85,85,85,0.23)"/><rect x="1354" y="752" width="1" height="8" fill="rgba(85,85,85,0.22)"/><rect x="1354" y="760" width="1" height="8" fill="rgba(85,85,85,0.21)"/><rect x="1354" y="768" width="1" height="8" fill="rgba(85,85,85,0.2)"/><rect x="1354" y="776" width="1" height="8" fill="rgba(85,85,85,0.19)"/><rect x="1354" y="784" width="1" height="8" fill="rgba(85,85,85,0.17)"/><rect x="1354" y="792" width="1" height="8" fill="rgba(85,85,85,0.16)"/><rect x="1354" y="800" width="1" height="8" fill="rgba(85,85,85,0.15)"/><rect x="1354" y="808" width="1" height="8" fill="rgba(85,85,85,0.14)"/><rect x="1354" y="816" width="1" height="8" fill="rgba(85,85,85,0.13)"/><rect x="1354" y="824" width="1" height="8" fill="rgba(85,85,85,0.12)"/><rect x="1354" y="832" width="1" height="8" fill="rgba(85,85,85,0.11)"/><rect x="1354" y="840" width="1" height="8" fill="rgba(85,85,85,0.09)"/><rect x="1354" y="848" width="1" height="8" fill="rgba(85,85,85,0.08)"/><rect x="1354" y="856" width="1" height="8" fill="rgba(85,85,85,0.07)"/><rect x="1354" y="864" width="1" height="8" fill="rgba(85,85,85,0.06)"/><rect x="1354" y="872" width="1" height="8" fill="rgba(85,85,85,0.05)"/><rect x="1354" y="880" width="1" height="8" fill="rgba(85,85,85,0.04)"/><rect x="1354" y="888" width="1" height="8" fill="rgba(85,85,85,0.03)"/><rect x="1354" y="896" width="1" height="8" fill="rgba(85,85,85,0.01)"/><rect x="1355" y="0" width="1" height="8" fill="rgba(85,85,85,0.29)"/><rect x="1355" y="8" width="1" height="8" fill="rgba(85,85,85,0.28)"/><rect x="1355" y="16" width="1" height="8" fill="rgba(85,85,85,0.27)"/><rect x="1355" y="24" width="1" height="8" fill="rgba(85,85,85,0.26)"/><rect x="1355" y="32" width="1" height="8" fill="rgba(85,85,85,0.25)"/><rect x="1355" y="40" width="1" height="8" fill="rgba(85,85,85,0.24)"/><rect x="1355" y="48" width="1" height="8" fill="rgba(85,85,85,0.23)"/><rect x="1355" y="56" width="1" height="8" fill="rgba(85,85,85,0.21)"/><rect x="1355" y="64" width="1" height="8" fill="rgba(85,85,85,0.2)"/><rect x="1355" y="72" width="1" height="8" fill="rgba(85,85,85,0.19)"/><rect x="1355" y="80" width="1" height="8" fill="rgba(85,85,85,0.18)"/><rect x="1355" y="88" width="1" height="8" fill="rgba(85,85,85,0.17)"/><rect x="1355" y="96" width="1" height="8" fill="rgba(85,85,85,0.16)"/><rect x="1355" y="104" width="1" height="8" fill="rgba(85,85,85,0.15)"/><rect x="1355" y="112" width="1" height="8" fill="rgba(85,85,85,0.13)"/><rect x="1355" y="120" width="1" height="8" fill="rgba(85,85,85,0.12)"/><rect x="1355" y="128" width="1" height="8" fill="rgba(85,85,85,0.11)"/><rect x="1355" y="136" width="1" height="8" fill="rgba(85,85,85,0.1)"/><rect x="1355" y="144" width="1" height="8" fill="rgba(85,85,85,0.09)"/><rect x="1355" y="152" width="1" height="8" fill="rgba(85,85,85,0.08)"/><rect x="1355" y="160" width="1" height="8" fill="rgba(85,85,85,0.07)"/><rect x="1355" y="168" width="1" height="8" fill="rgba(85,85,85,0.05)"/><rect x="1355" y="176" width="1" height="8" fill="rgba(85,85,85,0.04)"/><rect x="1355" y="184" width="1" height="8" fill="rgba(85,85,85,0.03)"/><rect x="1355" y="192" width="1" height="8" fill="rgba(85,85,85,0.02)"/><rect x="1352" y="216" width="1" height="8" fill="rgba(85,85,85,0.01)"/><rect x="1352" y="224" width="1" height="8" fill="rgba(85,85,85,0.03)"/><rect x="1352" y="232" width="1" height="8" fill="rgba(85,85,85,0.04)"/><rect x="1352" y="240" width="1" height="8" fill="rgba(85,85,85,0.05)"/><rect x="1352" y="248" width="1" height="8" fill="rgba(85,85,85,0.06)"/><rect x="1352" y="256" width="1" height="8" fill="rgba(85,85,85,0.07)"/><rect x="1352" y="264" width="1" height="8" fill="rgba(85,85,85,0.08)"/><rect x="1352" y="272" width="1" height="8" fill="rgba(85,85,85,0.09)"/><rect x="1352" y="280" width="1" height="8" fill="rgba(85,85,85,0.11)"/><rect x="1352" y="288" width="1" height="8" fill="rgba(85,85,85,0.12)"/><rect x="1352" y="296" width="1" height="8" fill="rgba(85,85,85,0.13)"/><rect x="1352" y="304" width="1" height="8" fill="rgba(85,85,85,0.14)"/><rect x="1352" y="312" width="1" height="8" fill="rgba(85,85,85,0.15)"/><rect x="1352" y="320" width="1" height="8" fill="rgba(85,85,85,0.16)"/><rect x="1352" y="328" width="1" height="8" fill="rgba(85,85,85,0.17)"/><rect x="1352" y="336" width="1" height="8" fill="rgba(85,85,85,0.19)"/><rect x="1352" y="344" width="1" height="8" fill="rgba(85,85,85,0.2)"/><rect x="1352" y="352" width="1" height="8" fill="rgba(85,85,85,0.21)"/><rect x="1352" y="360" width="1" height="8" fill="rgba(85,85,85,0.22)"/><rect x="1352" y="368" width="1" height="8" fill="rgba(85,85,85,0.23)"/><rect x="1352" y="376" width="1" height="8" fill="rgba(85,85,85,0.24)"/><rect x="1352" y="384" width="1" height="8" fill="rgba(85,85,85,0.25)"/><rect x="1352" y="392" width="1" height="8" fill="rgba(85,85,85,0.27)"/><rect x="1352" y="400" width="1" height="8" fill="rgba(85,85,85,0.28)"/><rect x="1352" y="408" width="1" height="8" fill="rgba(85,85,85,0.29)"/><rect x="1352" y="416" width="1" height="8" fill="rgba(85,85,85,0.3)"/><rect x="1352" y="424" width="1" height="8" fill="rgba(85,85,85,0.31)"/><rect x="1352" y="432" width="1" height="8" fill="rgba(85,85,85,0.32)"/><rect x="1352" y="440" width="1" height="8" fill="rgba(85,85,85,0.33)"/><rect x="1352" y="448" width="1" height="8" fill="rgba(85,85,85,0.35)"/><rect x="1352" y="456" width="1" height="8" fill="rgba(85,85,85,0.36)"/><rect x="1352" y="464" width="1" height="8" fill="rgba(85,85,85,0.37)"/><rect x="1352" y="472" width="1" height="8" fill="rgba(85,85,85,0.38)"/><rect x="1352" y="480" width="1" height="8" fill="rgba(85,85,85,0.39)"/><rect x="1352" y="488" width="1" height="8" fill="rgba(85,85,85,0.4)"/><rect x="1352" y="496" width="1" height="8" fill="rgba(85,85,85,0.41)"/><rect x="1352" y="504" width="1" height="8" fill="rgba(85,85,85,0.43)"/><rect x="1352" y="512" width="1" height="8" fill="rgba(85,85,85,0.44)"/><rect x="1352" y="520" width="1" height="8" fill="rgba(85,85,85,0.45)"/><rect x="1352" y="528" width="1" height="8" fill="rgba(85,85,85,0.46)"/><rect x="1352" y="536" width="1" height="8" fill="rgba(85,85,85,0.47)"/><rect x="1352" y="544" width="1" height="8" fill="rgba(85,85,85,0.48)"/><rect x="1352" y="552" width="1" height="8" fill="rgba(85,85,85,0.49)"/><rect x="1352" y="560" width="1" height="8" fill="rgba(85,85,85,0.51)"/><rect x="1352" y="568" width="1" height="8" fill="rgba(85,85,85,0.52)"/><rect x="1352" y="576" width="1" height="8" fill="rgba(85,85,85,0.53)"/><rect x="1352" y="584" width="1" height="8" fill="rgba(85,85,85,0.54)"/><rect x="1352" y="592" width="1" height="8" fill="rgba(85,85,85,0.55)"/><rect x="1352" y="600" width="1" height="8" fill="rgba(85,85,85,0.56)"/><rect x="1352" y="608" width="1" height="8" fill="rgba(85,85,85,0.57)"/><rect x="1352" y="616" width="1" height="8" fill="rgba(85,85,85,0.59)"/><rect x="1352" y="624" width="1" height="8" fill="rgba(85,85,85,0.6)"/><rect x="1352" y="632" width="1" height="8" fill="rgba(85,85,85,0.61)"/><rect x="1352" y="640" width="1" height="8" fill="rgba(85,85,85,0.62)"/><rect x="1352" y="648" width="1" height="8" fill="rgba(85,85,85,0.63)"/><rect x="1352" y="656" width="1" height="8" fill="rgba(85,85,85,0.64)"/><rect x="1352" y="664" width="1" height="8" fill="rgba(85,85,85,0.65)"/><rect x="1352" y="672" width="1" height="8" fill="rgba(85,85,85,0.67)"/><rect x="1352" y="680" width="1" height="8" fill="rgba(85,85,85,0.68)"/><rect x="1352" y="688" width="1" height="8" fill="rgba(85,85,85,0.69)"/><rect x="1352" y="696" width="1" height="8" fill="rgba(85,85,85,0.7)"/><rect x="1352" y="704" width="1" height="8" fill="rgba(85,85,85,0.71)"/><rect x="1352" y="712" width="1" height="8" fill="rgba(85,85,85,0.72)"/><rect x="1352" y="720" width="1" height="8" fill="rgba(85,85,85,0.73)"/><rect x="1352" y="728" width="1" height="8" fill="rgba(85,85,85,0.75)"/><rect x="1352" y="736" width="1" height="8" fill="rgba(85,85,85,0.76)"/><rect x="1352" y="744" width="1" height="8" fill="rgba(85,85,85,0.77)"/><rect x="1352" y="752" width="1" height="8" fill="rgba(85,85,85,0.78)"/><rect x="1352" y="760" width="1" height="8" fill="rgba(85,85,85,0.79)"/><rect x="1352" y="768" width="1" height="8" fill="rgba(85,85,85,0.8)"/><rect x="1352" y="776" width="1" height="8" fill="rgba(85,85,85,0.81)"/><rect x="1352" y="784" width="1" height="8" fill="rgba(85,85,85,0.83)"/><rect x="1352" y="792" width="1" height="8" fill="rgba(85,85,85,0.84)"/><rect x="1352" y="800" width="1" height="8" fill="rgba(85,85,85,0.85)"/><rect x="1352" y="808" width="1" height="8" fill="rgba(85,85,85,0.86)"/><rect x="1352" y="816" width="1" height="8" fill="rgba(85,85,85,0.87)"/><rect x="1352" y="824" width="1" height="8" fill="rgba(85,85,85,0.88)"/><rect x="1352" y="832" width="1" height="8" fill="rgba(85,85,85,0.89)"/><rect x="1352" y="840" width="1" height="8" fill="rgba(85,85,85,0.91)"/><rect x="1352" y="848" width="1" height="8" fill="rgba(85,85,85,0.92)"/><rect x="1352" y="856" width="1" height="8" fill="rgba(85,85,85,0.93)"/><rect x="1352" y="864" width="1" height="8" fill="rgba(85,85,85,0.94)"/><rect x="1352" y="872" width="1" height="8" fill="rgba(85,85,85,0.95)"/><rect x="1352" y="880" width="1" height="8" fill="rgba(85,85,85,0.96)"/><rect x="1352" y="888" width="1" height="8" fill="rgba(85,85,85,0.97)"/><rect x="1352" y="896" width="1" height="8" fill="rgba(85,85,85,0.99)"/><rect x="1352" y="904" width="1" height="80" fill="rgba(85,85,85,1.0)"/><rect x="1351" y="920" width="1" height="8" fill="rgba(85,85,85,0.02)"/><rect x="1351" y="928" width="1" height="8" fill="rgba(85,85,85,0.03)"/><rect x="1351" y="936" width="1" height="8" fill="rgba(85,85,85,0.04)"/><rect x="1351" y="944" width="1" height="8" fill="rgba(85,85,85,0.05)"/><rect x="1351" y="952" width="1" height="8" fill="rgba(85,85,85,0.07)"/><rect x="1351" y="960" width="1" height="8" fill="rgba(85,85,85,0.08)"/><rect x="1351" y="968" width="1" height="8" fill="rgba(85,85,85,0.09)"/><rect x="1351" y="976" width="1" height="8" fill="rgba(85,85,85,0.1)"/>
<g opacity="0.999">
<line x1="56.8" y1="405.0" x2="35.48" y2="401.63" stroke="#e2401f" stroke-width="1.9"/><path d="M33.01,401.24 L37.46,400.02 L36.86,403.78 Z" fill="#e2401f"/><line x1="56.8" y1="405.0" x2="51.95" y2="417.40" stroke="#80ee40" stroke-width="1.9"/><path d="M51.04,419.73 L50.80,415.13 L54.34,416.51 Z" fill="#80ee40"/><line x1="56.8" y1="405.0" x2="57.25" y2="391.70" stroke="#2a2aff" stroke-width="1.9"/><path d="M57.33,389.20 L59.09,393.46 L55.29,393.33 Z" fill="#2a2aff"/><text x="61.50" y="389.90" font-size="11.29" fill="#2a2aff" stroke="#2a2aff" stroke-width="0.35" font-family='"Liberation Sans", sans-serif' text-anchor="middle">Z</text><text x="32.50" y="405.00" font-size="12.00" fill="#e2401f" stroke="#e2401f" stroke-width="0.35" font-family='"Liberation Sans", sans-serif' text-anchor="middle">X</text><text x="53.25" y="427.80" font-size="11.29" fill="#80ee40" stroke="#80ee40" stroke-width="0.35" font-family='"Liberation Sans", sans-serif' text-anchor="middle">Y</text>
<line x1="388.9" y1="400.3" x2="373.62" y2="411.23" stroke="#e2401f" stroke-width="1.9"/><path d="M371.59,412.68 L373.90,408.69 L376.11,411.78 Z" fill="#e2401f"/><line x1="388.9" y1="400.3" x2="408.16" y2="413.55" stroke="#80ee40" stroke-width="1.9"/><path d="M410.22,414.97 L405.69,414.15 L407.84,411.02 Z" fill="#80ee40"/><line x1="388.9" y1="400.3" x2="389.17" y2="386.10" stroke="#2a2aff" stroke-width="1.9"/><path d="M389.22,383.60 L391.04,387.84 L387.24,387.76 Z" fill="#2a2aff"/><text x="392.75" y="384.90" font-size="11.29" fill="#2a2aff" stroke="#2a2aff" stroke-width="0.35" font-family='"Liberation Sans", sans-serif' text-anchor="middle">Z</text><text x="369.95" y="420.00" font-size="10.00" fill="#e2401f" stroke="#e2401f" stroke-width="0.35" font-family='"Liberation Sans", sans-serif' text-anchor="middle">X</text><text x="415.50" y="420.00" font-size="10.00" fill="#80ee40" stroke="#80ee40" stroke-width="0.35" font-family='"Liberation Sans", sans-serif' text-anchor="middle">Y</text>
<line x1="742.5" y1="400.2" x2="722.96" y2="409.46" stroke="#e2401f" stroke-width="1.9"/><path d="M720.70,410.53 L723.68,407.01 L725.31,410.45 Z" fill="#e2401f"/><line x1="742.5" y1="400.2" x2="756.38" y2="415.30" stroke="#80ee40" stroke-width="1.9"/><path d="M758.08,417.14 L753.84,415.33 L756.63,412.76 Z" fill="#80ee40"/><line x1="742.5" y1="400.2" x2="742.50" y2="386.40" stroke="#2a2aff" stroke-width="1.9"/><path d="M742.50,383.90 L744.40,388.10 L740.60,388.10 Z" fill="#2a2aff"/><text x="745.30" y="384.60" font-size="11.00" fill="#2a2aff" stroke="#2a2aff" stroke-width="0.35" font-family='"Liberation Sans", sans-serif' text-anchor="middle">Z</text><text x="718.30" y="418.10" font-size="10.86" fill="#e2401f" stroke="#e2401f" stroke-width="0.35" font-family='"Liberation Sans", sans-serif' text-anchor="middle">X</text><text x="764.55" y="424.70" font-size="10.86" fill="#80ee40" stroke="#80ee40" stroke-width="0.35" font-family='"Liberation Sans", sans-serif' text-anchor="middle">Y</text>
<line x1="1098.8" y1="387.9" x2="1075.58" y2="397.91" stroke="#e2401f" stroke-width="1.9"/><path d="M1073.28,398.90 L1076.39,395.49 L1077.89,398.98 Z" fill="#e2401f"/><line x1="1098.8" y1="387.9" x2="1106.86" y2="409.00" stroke="#80ee40" stroke-width="1.9"/><path d="M1107.76,411.33 L1104.48,408.09 L1108.03,406.73 Z" fill="#80ee40"/><line x1="1098.8" y1="387.9" x2="1090.45" y2="377.76" stroke="#2a2aff" stroke-width="1.9"/><path d="M1088.86,375.83 L1093.00,377.86 L1090.07,380.28 Z" fill="#2a2aff"/><text x="1090.85" y="377.60" font-size="10.86" fill="#2a2aff" stroke="#2a2aff" stroke-width="0.35" font-family='"Liberation Sans", sans-serif' text-anchor="middle">Z</text><text x="1070.25" y="405.80" font-size="10.86" fill="#e2401f" stroke="#e2401f" stroke-width="0.35" font-family='"Liberation Sans", sans-serif' text-anchor="middle">X</text><text x="1112.90" y="418.70" font-size="10.86" fill="#80ee40" stroke="#80ee40" stroke-width="0.35" font-family='"Liberation Sans", sans-serif' text-anchor="middle">Y</text>
<line x1="1460.9" y1="400.8" x2="1444.99" y2="415.77" stroke="#ff1414" stroke-width="1.9"/><path d="M1443.17,417.49 L1444.93,413.22 L1447.53,415.99 Z" fill="#ff1414"/><line x1="1460.9" y1="400.8" x2="1479.12" y2="412.01" stroke="#14ee14" stroke-width="1.9"/><path d="M1481.25,413.32 L1476.68,412.74 L1478.67,409.50 Z" fill="#14ee14"/><line x1="1460.9" y1="400.8" x2="1455.98" y2="386.32" stroke="#2020ff" stroke-width="1.9"/><path d="M1455.18,383.95 L1458.33,387.32 L1454.73,388.54 Z" fill="#2020ff"/><text x="1458.70" y="386.20" font-size="16.00" fill="#2020ff" stroke="#2020ff" stroke-width="0.35" font-family='"Liberation Sans", sans-serif' text-anchor="middle">Z</text><text x="1442.75" y="427.40" font-size="16.14" fill="#ff1414" stroke="#ff1414" stroke-width="0.35" font-family='"Liberation Sans", sans-serif' text-anchor="middle">X</text><text x="1488.40" y="421.40" font-size="15.57" fill="#14ee14" stroke="#14ee14" stroke-width="0.35" font-family='"Liberation Sans", sans-serif' text-anchor="middle">Y</text>
<line x1="61.8" y1="907.9" x2="41.66" y2="917.17" stroke="#ff1414" stroke-width="1.9"/><path d="M39.39,918.22 L42.41,914.74 L44.00,918.19 Z" fill="#ff1414"/><line x1="61.8" y1="907.9" x2="67.62" y2="925.08" stroke="#14ee14" stroke-width="1.9"/><path d="M68.42,927.45 L65.27,924.08 L68.87,922.86 Z" fill="#14ee14"/><line x1="61.8" y1="907.9" x2="53.79" y2="897.10" stroke="#2020ff" stroke-width="1.9"/><path d="M52.30,895.10 L56.33,897.34 L53.28,899.60 Z" fill="#2020ff"/><text x="55.00" y="897.90" font-size="14.14" fill="#2020ff" stroke="#2020ff" stroke-width="0.35" font-family='"Liberation Sans", sans-serif' text-anchor="middle">Z</text><text x="37.30" y="926.80" font-size="14.29" fill="#ff1414" stroke="#ff1414" stroke-width="0.35" font-family='"Liberation Sans", sans-serif' text-anchor="middle">X</text><text x="74.60" y="936.70" font-size="13.71" fill="#14ee14" stroke="#14ee14" stroke-width="0.35" font-family='"Liberation Sans", sans-serif' text-anchor="middle">Y</text>
<line x1="377.2" y1="907.5" x2="356.28" y2="916.22" stroke="#ff1414" stroke-width="1.9"/><path d="M353.98,917.18 L357.12,913.81 L358.58,917.32 Z" fill="#ff1414"/><line x1="377.2" y1="907.5" x2="387.93" y2="922.58" stroke="#14ee14" stroke-width="1.9"/><path d="M389.38,924.61 L385.40,922.29 L388.49,920.09 Z" fill="#14ee14"/><line x1="377.2" y1="907.5" x2="375.02" y2="892.78" stroke="#2020ff" stroke-width="1.9"/><path d="M374.65,890.31 L377.15,894.19 L373.39,894.74 Z" fill="#2020ff"/><text x="378.65" y="890.90" font-size="14.14" fill="#2020ff" stroke="#2020ff" stroke-width="0.35" font-family='"Liberation Sans", sans-serif' text-anchor="middle">Z</text><text x="352.60" y="925.40" font-size="15.14" fill="#ff1414" stroke="#ff1414" stroke-width="0.35" font-family='"Liberation Sans", sans-serif' text-anchor="middle">X</text><text x="396.25" y="933.10" font-size="14.29" fill="#14ee14" stroke="#14ee14" stroke-width="0.35" font-family='"Liberation Sans", sans-serif' text-anchor="middle">Y</text>
<line x1="728.7" y1="897.5" x2="710.84" y2="906.33" stroke="#ff1414" stroke-width="1.9"/><path d="M708.60,907.44 L711.53,903.88 L713.21,907.28 Z" fill="#ff1414"/><line x1="728.7" y1="897.5" x2="742.41" y2="915.99" stroke="#14ee14" stroke-width="1.9"/><path d="M743.90,918.00 L739.87,915.76 L742.92,913.50 Z" fill="#14ee14"/><line x1="728.7" y1="897.5" x2="730.90" y2="886.67" stroke="#2020ff" stroke-width="1.9"/><path d="M731.40,884.22 L732.42,888.71 L728.70,887.96 Z" fill="#2020ff"/><text x="735.95" y="885.70" font-size="13.57" fill="#2020ff" stroke="#2020ff" stroke-width="0.35" font-family='"Liberation Sans", sans-serif' text-anchor="middle">Z</text><text x="707.85" y="915.00" font-size="13.71" fill="#ff1414" stroke="#ff1414" stroke-width="0.35" font-family='"Liberation Sans", sans-serif' text-anchor="middle">X</text><text x="749.25" y="925.30" font-size="14.43" fill="#14ee14" stroke="#14ee14" stroke-width="0.35" font-family='"Liberation Sans", sans-serif' text-anchor="middle">Y</text>
<line x1="1073.9" y1="898.5" x2="1057.77" y2="911.56" stroke="#ff1414" stroke-width="1.9"/><path d="M1055.82,913.13 L1057.89,909.01 L1060.28,911.96 Z" fill="#ff1414"/><line x1="1073.9" y1="898.5" x2="1088.78" y2="914.70" stroke="#14ee14" stroke-width="1.9"/><path d="M1090.48,916.54 L1086.24,914.73 L1089.03,912.16 Z" fill="#14ee14"/><line x1="1073.9" y1="898.5" x2="1070.99" y2="890.02" stroke="#2020ff" stroke-width="1.9"/><path d="M1070.18,887.65 L1073.34,891.01 L1069.74,892.24 Z" fill="#2020ff"/><text x="1073.40" y="890.60" font-size="15.14" fill="#2020ff" stroke="#2020ff" stroke-width="0.35" font-family='"Liberation Sans", sans-serif' text-anchor="middle">Z</text><text x="1054.95" y="922.10" font-size="13.71" fill="#ff1414" stroke="#ff1414" stroke-width="0.35" font-family='"Liberation Sans", sans-serif' text-anchor="middle">X</text><text x="1096.95" y="922.80" font-size="13.29" fill="#14ee14" stroke="#14ee14" stroke-width="0.35" font-family='"Liberation Sans", sans-serif' text-anchor="middle">Y</text>
<line x1="1436.2" y1="894.5" x2="1417.64" y2="903.83" stroke="#ff1414" stroke-width="1.9"/><path d="M1415.41,904.95 L1418.31,901.37 L1420.01,904.76 Z" fill="#ff1414"/><line x1="1436.2" y1="894.5" x2="1449.56" y2="914.16" stroke="#14ee14" stroke-width="1.9"/><path d="M1450.96,916.23 L1447.03,913.82 L1450.17,911.69 Z" fill="#14ee14"/><line x1="1436.2" y1="894.5" x2="1438.80" y2="885.05" stroke="#2020ff" stroke-width="1.9"/><path d="M1439.47,882.64 L1440.18,887.19 L1436.52,886.18 Z" fill="#2020ff"/><text x="1444.30" y="884.90" font-size="14.14" fill="#2020ff" stroke="#2020ff" stroke-width="0.35" font-family='"Liberation Sans", sans-serif' text-anchor="middle">Z</text><text x="1413.30" y="912.80" font-size="14.29" fill="#ff1414" stroke="#ff1414" stroke-width="0.35" font-family='"Liberation Sans", sans-serif' text-anchor="middle">X</text><text x="1457.40" y="924.70" font-size="14.14" fill="#14ee14" stroke="#14ee14" stroke-width="0.35" font-family='"Liberation Sans", sans-serif' text-anchor="middle">Y</text>
</g>
</svg></body></html>
